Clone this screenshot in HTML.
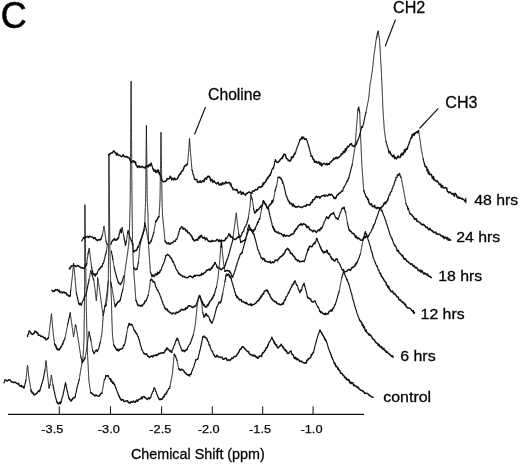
<!DOCTYPE html>
<html><head><meta charset="utf-8"><title>C</title>
<style>
html,body{margin:0;padding:0;background:#fff;}
body{width:520px;height:464px;overflow:hidden;}
svg{display:block;}
text{font-family:"Liberation Sans",sans-serif;fill:#000;}
</style></head><body>
<svg width="520" height="464" viewBox="0 0 520 464">
<rect width="520" height="464" fill="#fff"/>
<g fill="none" stroke="#111" stroke-width="1.5" stroke-linejoin="round" stroke-linecap="round">
<path d="M5.0 380.0L6.0 380.3L7.0 381.0L8.0 380.4L9.0 379.7L10.0 380.0L10.7 380.5L11.3 382.1L12.0 382.0L13.0 382.3L14.0 382.7L15.0 382.0L15.8 382.7L16.5 383.3L17.2 383.6L18.0 384.0L18.7 383.4L19.3 385.6L20.0 385.9L20.7 386.3L21.3 385.4L22.0 387.0L23.0 386.4L24.0 388.0"/>
<path d="M31.0 390.0L31.4 391.8L31.9 391.8L32.3 393.0L32.7 392.4L33.1 393.1L33.6 394.0L34.0 395.0L34.8 394.4L35.5 394.4L36.2 393.7L37.0 393.0L37.6 392.1L38.2 391.1L38.8 390.8L39.4 391.5L40.0 390.0"/>
<path d="M57.0 402.0L57.6 403.0L58.2 403.7L58.8 404.0L59.5 402.2L60.3 403.6L61.0 402.0"/>
<path d="M69.0 398.0L69.5 399.2L70.0 399.4L70.5 400.4L71.0 401.0L71.5 400.7L72.0 399.5L72.5 399.3L73.0 398.0L74.0 397.9L75.0 397.0"/>
<path d="M90.6 392.5L91.2 393.2L91.9 393.1L92.5 394.0L93.1 394.4L93.8 394.8L94.4 395.5L95.0 396.0L96.0 394.9L97.0 395.7L98.0 396.0L99.0 396.2L100.0 395.0L100.7 393.5L101.3 393.6L102.0 393.0"/>
<path d="M106.0 375.9L107.2 375.7L108.3 375.9"/>
<path d="M109.9 379.0L110.5 378.7L111.1 381.4L111.6 380.4L112.2 382.2L112.8 383.3L113.4 382.4L114.0 384.1L114.6 384.6"/>
<path d="M119.0 396.0L119.4 396.5L119.8 397.5L120.2 398.6L120.7 399.0L121.1 400.0L121.5 400.3L122.4 399.5L123.2 399.8L124.1 401.6L125.0 401.5L125.9 400.9L126.7 401.0L127.6 400.8L128.4 402.8L129.3 402.5L130.2 403.1L131.0 401.5L131.9 402.3L132.7 402.0L133.5 401.0L134.4 402.1L135.2 402.4L136.0 401.0L136.7 400.0L137.4 401.3L138.1 400.5L138.8 399.4L139.9 399.0L141.0 398.8L141.6 397.1L142.2 398.6L142.8 397.0L143.4 396.5L144.1 396.5L144.8 397.6L145.5 397.8L146.3 398.4L147.2 399.5L148.0 398.8L148.8 397.7L149.6 398.9L150.4 397.7"/>
<path d="M159.0 398.8L160.0 399.8L161.0 398.8L162.0 399.4L163.0 397.7L163.6 396.5L164.2 396.8L164.8 394.4L165.4 394.0L166.0 394.0"/>
<path d="M174.2 354.2L174.8 355.1L175.5 356.0"/>
<path d="M178.7 369.0L179.5 368.9L180.2 370.4L181.0 370.0L182.0 369.2L183.0 370.2L184.0 371.0L184.6 372.4L185.2 372.9L185.8 373.0L186.3 374.2L186.9 374.4L187.5 375.0L188.5 374.7L189.5 376.0L190.0 374.2L190.5 374.2L191.0 374.0"/>
<path d="M196.0 359.7L196.9 359.5L197.8 358.8"/>
<path d="M202.8 337.0L203.5 336.7L204.2 336.0L204.7 337.2L205.2 337.2L205.8 337.8L206.3 337.8L206.8 338.9L207.3 339.8"/>
<path d="M214.2 355.4L215.1 356.6L215.9 357.1L216.8 355.2L217.7 356.0L218.5 356.9L219.4 357.0L220.3 357.4L221.1 357.3L222.0 357.2L222.9 359.3L223.7 359.2L224.6 358.8L225.5 358.1L226.4 358.2L227.2 360.5L228.1 360.2L229.0 359.7L229.9 360.5L230.7 359.6L231.6 358.1L232.4 358.5L233.3 358.0L234.0 356.4L234.7 356.4L235.3 356.4L236.0 356.3L236.7 355.4L237.1 354.1L237.6 353.8L238.0 353.4L238.4 352.6L238.9 352.0L239.3 351.0L239.8 349.8L240.2 349.3L240.8 349.2L241.5 348.0L242.2 346.8L242.8 346.7L243.5 346.9L244.1 348.0L244.8 348.6L245.4 349.3L246.0 350.0L246.6 350.5L247.2 351.3L247.9 351.7L248.5 351.5L249.1 353.3L249.7 353.6L250.4 354.8L251.1 354.8L251.8 354.8L252.6 355.6L253.3 355.1L254.0 356.2L254.9 355.4L255.7 357.0L256.6 356.6L257.4 358.2L258.3 358.0L259.0 356.8L259.6 356.0L260.3 355.9L261.0 356.2L261.5 356.6L262.0 354.4L262.5 353.0L262.9 352.7L263.4 352.9L263.9 352.1L264.4 351.0L264.8 350.4L265.3 350.5L265.7 349.2L266.1 348.0L266.6 347.7L267.0 347.6L267.5 346.4L267.9 345.0"/>
<path d="M274.0 341.5L274.4 343.3L274.8 342.6L275.2 344.2L275.6 344.9L276.1 344.9L276.5 344.8L276.9 346.5L277.3 347.3L277.7 347.7L278.3 347.9L278.9 347.1L279.4 346.0L280.0 346.0L280.6 345.2L281.2 344.2L281.6 345.1L282.1 345.7L282.5 346.2L282.9 347.6L283.3 347.1L283.8 348.1L284.2 349.3L284.6 350.0L285.2 349.6L285.7 350.9L286.3 350.6L286.9 351.9L287.4 353.3L288.0 353.5L288.7 353.3L289.4 352.3L290.1 351.6L290.8 351.2"/>
<path d="M293.8 357.0L294.4 358.0L295.1 358.7L295.7 357.4L296.4 359.0L297.0 359.9L297.7 358.9L298.3 359.4L299.0 360.3L299.6 361.5L300.4 361.2L301.3 360.9L302.1 362.0L302.9 362.4L303.7 362.8L304.6 363.0L305.4 362.7L306.0 363.2L306.5 362.3L307.1 360.0L307.7 360.0L308.3 359.0L308.9 358.4L309.4 358.5L310.0 358.0L310.4 357.3L310.9 356.9L311.3 354.8L311.8 354.3L312.2 354.4L312.6 353.6L313.1 352.8L313.5 352.3"/>
<path d="M319.7 330.4L320.2 330.2L320.7 331.7L321.2 332.2L321.7 332.7L322.2 334.2L322.7 335.0L323.1 335.4L323.6 336.5L324.0 337.5L324.4 337.6L324.9 339.7L325.3 339.1L325.8 340.8L326.2 340.8"/>
<path d="M334.2 362.7L334.7 363.9L335.1 363.5L335.6 365.9L336.1 366.6L336.5 366.1L337.0 367.0L337.5 367.2L337.9 369.2L338.4 368.4L338.9 370.0L339.3 369.9L339.8 370.5L340.3 372.1L340.7 373.2L341.2 373.0L341.8 373.6L342.3 373.7L342.9 375.3L343.5 375.3L344.1 376.1L344.6 377.6L345.2 377.9L345.8 377.3L346.4 379.4L346.9 378.8L347.5 379.9L348.1 379.5L348.7 380.5L349.2 380.0L349.8 382.8L350.4 382.3L351.1 383.7L351.7 382.4L352.4 382.7L353.0 383.2L353.7 385.6L354.3 384.9L355.0 385.7L355.7 386.0L356.3 386.7L357.0 386.5L357.6 387.7L358.3 387.2L358.9 388.7L359.6 389.2L360.3 389.9L361.0 390.4L361.7 390.4L362.4 390.4L363.1 391.5L363.8 391.5L364.6 393.4L365.3 393.3L366.0 393.1L366.7 393.3L367.4 393.6L368.1 393.9L368.8 395.0L369.6 395.2L370.5 396.1L371.3 396.7L372.2 397.2L373.0 397.3"/>
<path d="M29.5 331.0L30.0 331.8L30.5 332.5L31.1 333.4L31.6 333.6L32.1 334.5L32.8 334.2L33.5 333.4L34.2 333.3L34.9 331.1L35.6 331.6L36.2 331.6L36.7 332.9L37.3 332.8L37.9 333.4L38.4 335.2L39.0 335.4L39.9 335.1L40.8 336.2L41.6 336.5L42.5 336.2L43.1 337.0L43.7 337.7L44.2 337.9L44.8 337.5L45.4 339.1L46.0 339.7L46.8 339.5L47.7 338.2L48.5 338.0"/>
<path d="M54.6 344.0L55.0 344.7L55.5 346.0L55.9 345.6L56.3 347.4L56.7 348.9L57.1 348.1L57.6 349.4L58.0 350.0L58.6 349.3L59.2 349.9L59.8 348.5L60.3 348.4L60.9 346.7L61.5 346.6"/>
<path d="M82.3 362.5L82.8 361.6L83.2 360.6L83.7 360.6L84.1 359.4L84.5 358.7L85.0 358.0"/>
<path d="M95.7 350.7L96.5 350.0L97.3 351.5"/>
<path d="M104.8 306.2L105.5 306.1L106.2 304.8"/>
<path d="M113.8 345.2L114.3 345.8L114.8 346.9L115.2 347.0L115.7 348.5L116.2 349.0L117.0 350.4L117.8 349.0L118.5 350.9L119.3 350.0L120.1 349.1L120.9 349.2L121.7 348.8L122.5 348.3"/>
<path d="M129.2 323.5L130.1 325.0L131.0 324.3L131.9 324.7"/>
<path d="M134.3 330.2L134.9 331.0L135.4 331.7L136.0 333.2L136.6 333.4"/>
<path d="M143.7 353.0L144.4 353.9L145.0 353.7L145.7 354.3L146.4 353.7L147.1 355.0L147.7 356.2L148.4 356.2L149.2 357.4L150.0 356.8L150.9 356.2L151.7 356.1L152.6 357.0L153.5 355.4L154.3 355.8L155.2 355.0L156.1 355.8L156.9 354.5L157.8 355.0L158.7 353.4L159.5 353.7L160.4 353.3L161.3 352.9L162.1 352.7L163.0 353.1L163.8 353.1L164.7 351.6L165.2 350.4L165.7 349.8L166.3 349.8L166.8 348.0L167.3 348.0L167.9 349.0L168.4 349.7L169.0 350.0L169.7 350.4L170.3 351.6L170.9 350.8L171.6 352.5"/>
<path d="M176.0 340.4L176.6 340.0L177.1 338.3L177.7 338.6"/>
<path d="M182.0 350.7L182.9 351.0L183.7 350.2L184.6 351.6L185.2 350.8L185.9 350.0L186.5 350.0L187.2 349.0"/>
<path d="M204.0 317.0L204.4 316.0L204.9 316.1L205.3 314.3L205.8 314.1L206.2 313.5L206.8 315.5L207.4 315.5L208.0 316.0"/>
<path d="M209.7 319.6L210.2 320.4L210.6 321.6L211.1 321.9L211.5 322.7L212.0 323.0"/>
<path d="M219.2 302.3L220.1 303.0L221.0 301.4"/>
<path d="M226.0 275.7L226.8 274.0L227.6 275.4L228.4 274.0L228.8 274.3L229.3 275.5L229.7 277.0L230.1 276.9L230.6 276.6L231.0 278.3"/>
<path d="M236.0 295.5L236.5 295.8L237.0 297.6L237.5 296.8L238.1 298.2L238.6 298.3L239.1 299.4L239.6 299.9L240.3 299.8L241.1 299.5L241.8 301.8L242.6 301.6L243.3 301.4L244.1 302.3L244.8 302.5L245.5 303.6L246.3 302.5L247.0 303.5L247.8 304.3L248.5 304.7L249.3 304.4L250.0 305.0L250.9 303.7L251.7 305.6L252.6 304.7L253.4 304.4L254.3 304.2L255.0 303.4L255.7 303.2L256.5 302.2L257.2 301.1L257.9 300.8L258.6 300.7L259.1 299.5L259.6 298.8L260.1 297.7L260.5 298.2L261.0 296.1L261.5 296.7L262.0 295.5L262.4 294.1L262.9 294.3L263.4 294.3L263.8 292.8L264.2 291.4L264.7 291.2L265.5 290.6L266.4 290.0L266.9 290.9L267.4 290.4L268.0 291.9L268.5 293.2L269.0 293.8L269.4 294.2L269.9 295.4L270.3 296.6L270.8 297.4L271.2 298.2L271.6 298.8L272.1 298.9L272.5 299.9L273.2 300.5L273.9 300.9L274.6 301.4L275.4 302.1L276.1 301.7L276.8 303.4L277.7 303.6L278.6 304.2L279.4 303.9L280.3 305.0L281.0 304.5L281.7 304.4L282.3 303.4L283.0 304.1L283.7 302.5"/>
<path d="M291.5 287.0L291.9 285.9L292.4 284.4L292.8 284.7L293.2 284.1L293.7 283.8L294.1 281.9L294.6 281.7L295.0 281.0"/>
<path d="M307.5 297.0L308.1 298.0L308.8 298.3L309.4 298.3L310.0 299.0L310.6 299.0L311.2 300.6L311.9 301.7L312.5 302.0L313.3 302.0L314.2 301.2L315.0 301.0"/>
<path d="M320.0 311.0L320.8 312.6L321.5 311.9L322.2 312.7L323.0 313.6L323.8 313.8L324.5 314.5L325.2 313.2L326.0 314.5L326.6 313.6L327.3 313.8L327.9 314.0L328.6 312.6L329.2 311.4L329.9 311.3L330.6 310.5L331.2 309.9L331.9 311.1L332.5 309.5"/>
<path d="M359.6 320.0L360.0 320.8L360.5 321.1L360.9 321.2L361.3 322.5L361.8 322.5L362.2 325.2L362.6 325.4L363.1 324.9L363.5 327.4L363.9 327.8L364.3 326.8L364.8 329.7L365.2 329.9L365.6 331.2L366.1 329.9L366.5 331.5L367.0 332.5L367.6 333.0L368.1 333.5L368.7 334.1L369.2 335.3L369.8 334.2L370.3 335.0L370.9 335.5L371.4 336.7L372.0 337.3L372.5 338.6L373.1 339.1L373.6 339.6L374.2 339.7L374.7 340.5L375.3 342.0L375.8 342.0L376.4 343.1L377.0 343.2L377.6 343.5L378.3 345.4L378.9 344.4L379.5 345.9L380.1 346.8L380.7 346.3L381.3 347.7L381.9 346.9L382.5 348.9L383.2 348.9L383.8 348.3L384.4 350.4L385.0 350.5L385.6 350.4L386.3 352.4L386.9 351.6L387.5 352.5L388.2 353.3L388.8 353.4L389.4 354.3L390.0 354.3L390.7 355.7L391.3 355.7L391.9 356.4L392.6 355.7L393.2 357.3"/>
<path d="M52.0 290.4L52.9 291.5L53.7 291.0L54.6 291.2L55.5 289.5L56.3 290.1L57.2 289.5L57.9 290.3L58.6 291.2L59.3 290.2L60.0 292.6L60.7 292.0L61.5 291.9L62.4 293.1L63.2 291.9L64.0 292.0L64.7 293.0L65.4 292.8L66.2 292.8L66.9 294.9L67.6 294.7L68.5 295.6L69.3 296.4L70.2 295.6"/>
<path d="M78.8 303.4L79.7 304.7L80.5 303.3L81.4 305.0"/>
<path d="M116.6 304.0L117.3 303.0L117.9 301.9L118.6 302.0L119.3 300.8L120.0 300.7"/>
<path d="M138.0 305.5L138.9 305.2L139.8 305.4L140.7 306.2L141.4 305.3L142.1 306.0L142.7 305.1L143.4 304.0L144.0 303.8L144.5 302.9L145.1 300.9L145.6 301.0L146.2 300.7"/>
<path d="M150.4 280.7L151.2 279.1L152.0 279.8L152.7 280.9L153.3 282.1L154.0 281.9L154.7 282.5"/>
<path d="M164.7 307.5L165.3 308.8L165.9 309.5L166.5 309.4L167.2 309.0L167.8 311.1L168.4 310.9L169.0 311.8L169.9 312.5L170.7 312.6L171.6 313.8L172.5 313.7L173.3 312.9L174.2 313.5L174.9 313.4L175.7 313.9L176.4 312.1L177.2 312.4L177.9 312.5L178.7 312.2L179.4 311.0L180.3 311.1L181.1 309.5L182.0 309.2L182.9 310.0L183.7 309.8L184.6 309.2L185.3 309.8L186.1 307.6L186.8 308.5L187.6 307.8L188.3 305.7L189.1 305.7L189.8 305.8L190.7 306.5L191.5 306.6L192.4 307.5L193.2 307.0L194.1 307.0L195.0 305.7L195.8 305.8"/>
<path d="M202.0 301.4L202.4 301.5L202.8 304.0L203.2 304.1L203.7 305.4L204.1 304.4L204.5 305.8L205.3 307.0L206.2 306.6L206.7 307.0L207.2 305.3L207.8 304.6L208.3 305.2L208.8 303.5L209.3 302.8L209.8 301.6L210.4 300.7L210.9 300.6L211.4 299.5L211.8 299.0L212.3 298.1L212.7 298.4L213.1 296.3L213.6 296.1L214.0 295.0"/>
<path d="M224.9 271.3L225.8 271.0L226.6 270.4L227.5 270.5L228.3 271.1L229.2 270.8L230.0 272.2"/>
<path d="M240.5 254.0L241.1 253.6L241.6 253.6L242.2 252.3"/>
<path d="M251.0 229.4L251.4 230.7L251.9 231.0L252.3 232.0L252.7 232.3L253.2 233.8L253.6 233.7"/>
<path d="M261.4 258.0L262.1 258.2L262.9 259.6L263.6 258.4L264.4 258.8L265.1 261.3L265.9 261.2L266.6 261.4L267.5 261.9L268.3 261.9L269.2 262.3L270.1 261.3L270.9 263.1L271.8 262.6L272.7 261.9L273.5 262.6L274.4 261.7L275.3 260.1L276.1 260.0L277.0 260.6L277.6 260.8L278.2 259.3L278.7 258.6L279.3 258.5L279.9 257.4L280.5 256.8L281.0 256.6L281.6 256.1L282.2 255.4L282.7 255.7L283.2 253.9L283.7 254.3L284.1 253.5L284.6 252.8L285.1 251.7L285.6 250.2L286.3 249.7L287.0 249.1L287.7 248.4L288.2 249.0L288.7 249.4L289.2 250.6L289.8 250.9L290.3 253.2L290.8 252.8L291.3 253.8L291.8 253.8L292.3 253.7L292.8 255.4L293.2 255.8L293.7 256.0L294.2 256.7L294.7 257.0L295.2 258.8L295.9 259.6L296.7 259.5L297.4 261.0L298.1 260.3L298.8 260.6L299.6 262.0L300.3 261.4L301.2 261.5L302.1 261.5L302.9 261.1L303.8 261.4"/>
<path d="M307.6 250.6L308.0 249.2L308.5 249.9L308.9 247.9L309.3 247.1L309.8 246.0L310.2 246.2L311.1 246.7L311.9 246.8L312.8 245.4L313.3 244.3L313.8 243.5L314.4 243.1L314.9 243.8L315.4 242.0"/>
<path d="M321.4 249.7L321.9 250.6L322.4 250.5L323.0 252.2L323.5 252.3L324.0 253.0L324.6 251.6L325.3 252.2L326.0 251.8L326.6 250.6L327.1 250.2L327.6 253.1L328.2 253.0L328.7 253.9L329.2 254.0"/>
<path d="M331.8 259.2L332.7 258.7L333.5 260.2L334.4 261.0L335.3 260.6L336.1 258.7L337.0 259.2"/>
<path d="M342.5 270.0L343.4 269.6L344.2 271.8L345.1 271.8L346.0 271.5L346.8 271.2L347.7 270.3L348.5 269.4L349.3 269.5L350.2 270.5L351.0 269.5L351.5 268.3L352.1 267.3L352.6 267.8L353.2 267.2L353.7 266.8L354.3 266.2L354.8 266.2L355.4 264.0L355.9 264.6L356.5 262.6L357.0 262.7"/>
<path d="M380.0 273.5L380.4 273.2L380.9 274.3L381.3 276.1L381.7 276.7L382.2 277.0L382.6 278.0L383.0 277.9L383.5 279.1L383.9 279.8L384.3 280.8L384.8 281.1L385.2 281.7L385.7 282.4L386.1 282.8L386.5 285.1L387.0 285.0L387.4 285.6L387.8 287.1L388.3 287.7L388.7 286.3L389.1 288.6L389.6 289.4L390.0 289.5L390.6 291.2L391.2 291.6L391.8 291.8L392.4 291.0L392.9 291.8L393.5 293.2L394.1 294.0L394.7 293.5L395.3 294.5L395.9 295.1L396.5 296.0L397.1 296.8L397.6 296.9L398.2 296.9L398.8 299.2L399.4 300.0L400.0 299.5L400.6 300.0L401.2 301.4L401.8 301.5L402.4 302.2L403.0 302.7L403.6 302.4L404.2 303.9L404.8 304.7L405.4 304.0L406.0 306.3L406.6 306.9L407.2 307.4L407.8 308.0L408.4 308.0L409.0 308.0L409.6 308.3L410.2 308.6L410.8 309.0L411.4 310.2L412.1 310.6L412.7 311.6L413.3 310.6L413.9 313.3L414.5 312.8"/>
<path d="M69.4 268.5L69.9 269.0L70.5 267.1L71.0 267.0L71.5 265.8L72.5 265.8L73.6 265.0L74.3 265.7L75.0 265.8L75.7 266.5L76.6 266.2L77.5 265.4L78.4 265.8L79.1 266.5L79.8 266.8L80.5 267.6L81.2 267.9L82.1 267.5L83.1 268.3L84.0 268.5L84.5 267.7L84.9 267.3L85.3 265.3L85.8 265.6L86.2 265.2L86.7 263.7"/>
<path d="M92.9 273.4L93.4 274.5L94.0 273.8L94.5 274.6L95.0 276.0L95.5 275.7L96.0 273.8L96.5 274.1L97.0 273.4"/>
<path d="M99.1 269.2L99.8 268.3L100.5 268.1L101.2 266.6L101.9 266.5"/>
<path d="M118.4 282.3L119.1 283.3L119.8 283.8L120.5 284.4"/>
<path d="M133.7 268.0L134.3 267.9L135.0 269.5L136.0 269.6L137.0 269.0"/>
<path d="M152.0 276.4L152.9 274.9L153.8 276.5L154.6 275.9L155.5 273.9L156.4 274.7L157.0 274.7L157.7 272.3L158.3 273.7L158.9 272.5L159.5 272.8L160.2 270.6L160.8 270.4"/>
<path d="M166.0 255.7L166.8 255.2L167.7 254.4L168.3 255.0L169.0 255.5L169.7 256.2L170.3 257.4L170.7 257.9L171.2 258.3L171.6 258.4L172.0 259.8L172.5 260.6L172.9 261.7"/>
<path d="M179.0 273.8L179.7 274.1L180.4 274.9L181.2 275.4L181.9 275.3L182.6 276.7L183.3 276.4L184.2 276.4L185.0 277.2L185.9 277.6L186.7 277.5L187.6 277.7L188.4 277.3L189.3 276.3L190.1 276.0L191.0 276.4L191.9 277.1L192.7 277.7L193.6 276.4L194.5 275.3L195.3 276.3L196.2 275.3L197.1 275.3L197.9 275.4L198.8 275.5L199.5 275.7L200.3 274.9L201.0 275.3L201.8 273.3L202.5 274.4L203.3 274.0L204.0 273.0L204.7 272.5L205.4 272.3L206.1 271.0L206.8 270.1L207.5 270.4L208.4 269.7L209.2 269.0L210.1 270.2L211.0 268.6L211.5 267.6L212.0 268.4L212.5 266.7L213.0 266.1L213.5 265.2L214.1 264.9L214.7 262.9L215.3 262.6"/>
<path d="M217.0 266.9L218.0 267.9L219.0 268.0L220.0 268.7L221.0 269.8L222.0 269.0L223.0 268.1L224.0 267.9"/>
<path d="M240.6 242.4L241.5 241.8L242.3 241.5L243.2 240.7L244.1 240.8L245.0 239.8"/>
<path d="M249.0 229.0L249.8 229.7L250.5 230.0L251.2 229.7L252.0 231.0L252.8 230.3L253.5 231.4L254.2 229.3L255.0 229.5"/>
<path d="M264.9 203.5L265.4 204.0L266.0 205.0L266.5 206.1L267.0 207.2L267.5 208.6L268.0 208.0L268.5 209.0"/>
<path d="M272.7 227.0L273.2 226.7L273.7 229.3L274.3 229.0L274.8 231.3L275.3 231.0L276.0 232.1L276.7 231.9L277.5 232.9L278.2 232.0L278.9 233.0L279.6 233.7L280.4 233.6L281.1 233.4L281.9 234.7L282.6 234.9L283.4 236.4L284.1 234.5L284.9 235.5L285.6 236.3L286.5 235.5L287.4 235.6L288.2 236.1L289.1 236.0L290.0 235.5L290.8 235.0L291.6 234.1L292.4 234.4L293.2 233.8L294.0 233.0L294.4 231.1L294.9 231.4L295.3 229.8L295.7 229.3L296.1 229.5L296.6 228.8L297.0 228.0L297.6 227.4L298.1 226.1L298.7 225.9L299.3 224.8L299.9 225.1L300.4 224.7L301.0 223.5L301.8 224.9L302.6 224.9L303.4 223.6L304.2 224.0L305.0 224.6L305.6 224.5L306.2 226.0L306.7 227.5L307.3 227.4L307.9 226.3L308.5 227.1L309.0 227.7L309.6 229.6L310.2 229.8L311.1 230.1L311.9 230.6L312.8 231.8L313.7 230.3L314.5 230.6L315.4 231.5L316.3 232.5L317.1 231.4L318.0 230.4L318.8 229.7L319.7 230.7L320.2 228.9L320.7 228.1L321.3 228.7L321.8 227.9L322.3 227.2"/>
<path d="M326.6 216.8L327.2 218.0L327.8 217.8L328.4 218.5L328.8 217.4L329.3 216.9L329.7 215.6L330.1 215.5L330.6 214.7L331.0 214.2L331.8 213.8L332.7 214.1L333.5 212.5"/>
<path d="M336.0 217.7L336.6 218.5L337.3 218.5L337.9 219.4"/>
<path d="M342.2 208.2L343.1 208.7L344.0 207.3"/>
<path d="M349.0 229.8L349.6 230.0L350.2 231.4L350.8 231.2L351.4 231.8L352.0 233.0L352.6 233.3L353.2 233.6L353.9 233.6L354.5 235.1L355.1 235.6L355.7 237.6L356.4 236.2L357.0 237.6L357.7 238.8L358.4 237.9L359.1 238.6L359.8 239.1L360.5 240.0L361.2 240.2L362.0 240.1L362.7 239.9L363.5 238.0L364.1 237.0L364.8 238.0L365.4 237.2L366.0 236.0L367.0 237.0L368.0 236.7"/>
<path d="M379.7 208.2L380.3 207.7L380.9 209.7L381.4 210.2L382.0 210.8"/>
<path d="M396.8 249.4L397.3 251.1L397.8 251.1L398.4 250.6L398.9 252.4L399.4 253.0L399.9 253.1L400.4 254.0L401.0 254.4L401.5 254.9L402.0 255.9L402.6 255.3L403.2 257.0L403.8 258.6L404.4 259.3L405.0 258.6L405.5 258.9L406.1 259.8L406.7 261.2L407.3 261.4L407.9 261.3L408.5 262.3L409.2 263.1L409.9 263.2L410.6 264.2L411.3 264.0L412.0 263.7L412.7 265.3L413.3 266.3L414.0 265.5L414.7 266.7L415.4 267.9L416.1 267.5L416.8 267.8L417.5 268.8L418.2 270.5L418.9 270.3L419.6 271.0L420.3 270.0L421.0 272.3L421.8 270.5L422.5 271.7L423.2 273.1L423.9 274.0L424.6 272.9L425.3 274.0L426.1 274.0L426.9 275.0L427.6 274.1L428.4 276.2L429.2 276.6L429.9 276.3L430.7 277.4L431.5 277.5"/>
<path d="M83.4 237.6L84.3 238.6L85.1 236.8L86.0 237.0L86.9 237.0L87.7 236.3L88.6 237.5L89.4 236.2L90.3 236.4L91.2 237.0L92.0 237.0L92.9 237.2L93.7 238.7L94.6 237.6L95.3 238.0L96.0 239.7L96.6 239.7L97.3 240.6L98.0 240.0L99.0 239.5L100.0 240.1L101.0 239.0"/>
<path d="M112.5 241.0L113.0 239.9L113.5 239.8L114.0 239.6L114.5 238.5L115.2 240.3L115.8 239.7L116.5 240.0L117.0 239.7L117.5 238.2L118.0 238.6L118.5 237.5"/>
<path d="M133.5 252.0L134.2 251.4L134.8 250.5L135.5 250.5L136.2 250.7L137.0 249.5L137.5 247.9L138.0 246.5L138.5 247.0"/>
<path d="M148.5 243.0L149.5 243.5L150.1 242.3L150.6 241.3L151.2 241.0"/>
<path d="M155.6 222.0L156.2 220.2L156.7 220.7L157.3 219.3L157.9 217.7L158.4 217.2L159.0 216.7"/>
<path d="M165.0 241.0L165.7 242.0L166.3 242.6L167.0 243.7L167.7 243.5L168.6 242.7L169.4 244.4L170.3 244.1L171.1 242.9L172.0 242.7L172.9 242.6L173.8 241.2L174.6 241.3L175.5 241.0"/>
<path d="M180.0 228.8L180.8 227.9L181.5 227.0L182.4 227.0L183.2 229.2L184.1 228.3L185.0 228.8L185.6 230.6L186.1 230.9L186.7 230.2L187.3 231.4L187.8 232.7L188.4 232.3L188.9 232.7L189.4 233.6L189.9 233.7L190.5 234.8L191.0 235.1L191.5 236.1L192.0 236.6L192.4 238.1L192.8 239.2L193.2 238.9L193.7 239.7L194.1 240.9L194.5 241.0L195.3 240.4L196.2 239.5L197.0 240.0L197.6 240.2L198.2 237.9L198.8 238.6L199.3 236.4L199.9 237.8L200.5 235.8L201.4 235.4L202.2 237.3L203.1 238.3L204.0 237.5L204.7 237.2L205.4 239.7L206.1 238.4L206.8 238.2L207.5 240.0L208.4 241.0L209.2 241.5L210.1 241.2L211.0 241.8L211.9 240.3L212.7 241.4L213.6 241.1L214.4 240.9L215.3 241.0L216.2 240.6L217.0 239.3L217.9 240.0L218.7 241.5L219.6 240.0L220.4 241.5L221.3 240.2L222.2 240.2L223.0 241.0L223.7 240.8L224.4 240.8L225.1 240.0L225.8 238.0L226.5 238.4"/>
<path d="M228.8 233.8L229.4 235.4L230.1 234.9L230.7 237.1L231.4 236.6L232.2 237.0L232.9 238.4L233.7 238.8L234.8 239.6L236.0 239.0L236.8 237.9L237.5 237.7L238.2 236.6L239.0 237.5L239.7 237.1L240.3 236.5L241.0 236.0"/>
<path d="M254.8 213.0L255.4 212.2L256.1 211.7L256.7 209.6L257.4 210.8L258.0 209.5L258.6 209.3L259.2 208.4L259.9 207.3L260.5 207.0L261.1 205.8L261.7 205.7L262.3 205.2"/>
<path d="M263.3 201.0L263.8 201.5L264.4 202.9L264.9 203.5"/>
<path d="M266.6 207.0L267.5 208.4L268.3 207.8L268.8 206.1L269.2 205.6L269.6 204.8L270.1 204.5L270.6 204.7L271.0 203.5L271.5 203.3L272.0 200.8L272.5 202.5L273.0 200.2L273.5 200.0"/>
<path d="M278.0 177.5L278.8 177.2L279.6 177.3L280.4 178.2L281.2 178.8"/>
<path d="M290.0 203.8L290.8 203.0L291.7 203.7L292.5 206.1L293.3 204.1L294.2 206.6L295.0 206.2L295.8 207.2L296.7 206.8L297.5 207.0L298.3 206.2L299.2 206.7L300.0 206.9L300.8 207.2L301.7 207.5L302.5 207.0L303.3 206.6L304.2 206.0L305.0 205.9L305.8 206.4L306.7 204.6L307.5 204.7L308.3 205.1L309.2 204.8L310.0 205.0L310.4 204.1L310.9 202.4L311.4 202.7L311.8 202.1L312.2 202.3L312.7 199.7L313.1 200.1L313.6 200.0L314.0 199.4L314.5 199.3L314.9 198.5L315.4 197.0L316.3 196.2L317.1 197.5L318.0 196.7L318.9 196.4L319.7 198.2L320.6 197.0L321.5 196.2L322.3 195.7L323.2 195.8L324.1 195.1L324.9 196.3L325.8 195.2L326.7 195.3L327.5 196.0L328.4 195.1L329.3 194.1L330.1 195.3L331.0 194.3L331.6 194.4L332.2 195.2L332.8 196.1L333.5 196.8L334.1 198.4L334.7 197.6L335.3 198.7L335.8 198.2L336.3 197.2L336.8 195.5L337.2 194.9L337.7 194.8L338.2 194.6L338.7 193.5L339.5 193.3L340.2 192.9L341.0 192.0L341.7 191.1L342.5 191.0"/>
<path d="M366.4 197.0L366.8 197.2L367.2 197.8L367.6 199.4L368.0 198.9L368.4 199.7L368.7 202.5L369.1 202.9L369.5 203.4L369.9 204.4L370.3 204.5L370.7 204.7L371.5 203.8L372.2 206.4L373.0 206.8L373.7 206.6L374.5 205.2L375.2 207.9L376.0 207.3L376.9 208.6L377.7 207.3L378.6 207.9L379.4 208.6L380.3 208.2L380.9 207.5L381.5 207.8L382.1 206.4L382.8 206.2L383.4 205.1L384.0 203.3L384.6 203.8L385.1 202.3L385.6 203.7L386.1 201.8L386.5 201.9L387.0 201.1L387.5 200.7L388.0 198.7"/>
<path d="M397.5 174.8L398.5 175.4L399.5 173.5"/>
<path d="M410.0 213.5L410.6 214.0L411.2 214.5L411.9 214.8L412.5 216.0L413.1 216.3L413.8 217.4L414.4 219.2L415.0 218.5L415.7 219.3L416.3 218.8L417.0 221.3L417.7 221.2L418.3 221.7L419.0 222.1L419.7 222.7L420.3 223.0L421.0 224.1L421.7 224.3L422.3 225.1L423.0 224.1L423.7 225.0L424.3 224.9L425.0 226.0L425.7 227.2L426.4 227.6L427.1 227.0L427.9 228.3L428.6 229.6L429.3 229.8L430.0 228.4L430.7 229.6L431.4 230.7L432.1 230.6L432.9 231.4L433.6 232.5L434.3 232.3L435.0 232.5L435.8 232.1L436.5 234.0L437.2 233.8L438.0 234.4L438.8 234.3L439.5 234.1L440.2 234.7L441.0 235.8L441.8 235.7L442.5 237.0L443.3 236.0L444.1 238.5L445.0 237.0L445.8 237.6L446.6 238.9L447.4 237.5L448.3 240.2L449.1 238.8L449.9 240.2L450.8 240.0"/>
<path d="M108.8 155.0L109.5 153.8L110.2 154.0L111.0 153.0L111.8 153.0L112.6 152.8L113.4 151.0L114.2 151.1L115.0 152.5L115.8 153.0L116.5 155.0L117.2 153.4L118.0 155.1L118.8 155.0L119.7 155.4L120.6 156.0L121.6 156.8L122.5 156.0L123.3 154.7L124.2 156.8L125.0 156.6L125.8 156.7L126.7 156.4L127.5 157.5L128.1 157.3L128.8 157.7L129.4 158.2L130.0 160.0L130.9 162.0L131.9 162.2L132.8 160.8L133.8 161.0L134.2 162.6L134.7 161.6L135.1 161.7L135.6 162.5L136.0 165.0L136.8 165.6L137.6 167.5L138.4 166.5L139.2 165.9L140.0 167.5L140.8 167.3L141.7 166.6L142.5 166.3L143.3 167.6L144.2 167.5L145.0 168.0L145.6 166.6L146.2 166.1L146.9 165.5L147.5 166.2L148.1 167.0L148.8 165.0L149.5 164.4L150.2 165.9L151.0 163.8"/>
<path d="M153.0 168.8L153.5 170.0L154.0 171.2L154.5 170.0L155.0 169.9L155.5 171.7L156.0 172.5L156.5 172.2L157.0 170.5L157.5 171.6L158.0 170.0"/>
<path d="M162.5 181.0L163.3 181.7L164.2 181.8L165.0 181.0L165.8 181.2L166.5 180.5L167.2 178.4L168.0 178.8L168.8 178.8L169.5 178.5L170.2 176.2L171.0 177.5L171.7 179.9L172.4 178.4L173.1 178.3L173.8 180.0L174.7 178.0L175.6 179.6L176.6 179.1L177.5 178.8L177.9 177.4L178.4 176.7L178.8 175.5L179.2 174.8L179.7 174.7L180.1 173.4L180.6 174.0L181.0 172.5L181.4 171.6L181.9 171.2L182.3 170.8L182.8 170.9L183.2 169.5L183.7 168.4L184.1 167.3L184.6 165.9L185.0 166.0L185.6 165.1L186.2 165.6L186.9 164.6L187.5 163.8"/>
<path d="M194.5 178.8L195.1 179.7L195.7 179.6L196.3 179.5L196.9 179.6L197.5 182.3L198.1 182.3L198.8 182.5L199.5 181.3L200.2 180.8L201.0 182.5L201.8 181.9L202.5 181.0L203.2 180.2L203.9 181.8L204.6 179.3L205.3 178.1L206.0 178.8L206.5 179.3L207.0 177.3L207.5 177.2L208.0 176.2L208.5 176.9L209.1 176.4L209.6 176.9L210.2 178.5L210.7 180.9L211.2 180.0L212.0 179.4L212.8 182.4L213.5 181.7L214.2 180.8L215.0 182.5L215.8 183.2L216.7 183.9L217.5 182.8L218.3 182.4L219.2 185.0L220.0 185.0L220.8 183.6L221.7 185.0L222.5 182.6L223.3 184.0L224.2 183.1L225.0 183.8L225.9 181.9L226.9 182.9L227.8 183.0L228.8 182.5L229.3 182.6L229.8 182.7L230.4 184.9L230.9 183.6L231.4 186.6L232.0 187.3L232.5 187.5L233.2 189.8L233.9 189.5L234.6 189.5L235.4 189.9L236.1 190.2L236.8 189.3L237.5 191.2L238.3 193.1L239.1 192.4L239.8 191.9L240.6 191.3L241.4 194.4L242.2 193.7L243.0 192.2L243.8 193.8L244.6 194.3L245.5 195.1L246.4 193.2L247.3 193.5L248.2 192.4L249.1 192.0L250.0 192.5L250.8 193.2L251.7 193.4L252.5 191.4L253.3 190.7L254.2 191.2L255.0 190.0L255.8 189.3L256.7 189.9L257.5 189.6L258.3 187.3L259.2 186.8L260.0 187.5L260.6 186.8L261.2 187.1L261.9 185.9L262.5 186.3L263.1 182.9L263.8 184.3L264.4 182.5L265.0 182.5L265.5 181.9L265.9 181.5L266.4 179.4L266.8 179.5L267.3 177.9L267.7 178.7L268.2 176.8L268.6 176.5L269.1 176.6L269.5 175.0L270.0 175.0"/>
<path d="M275.5 160.0L276.1 161.4L276.8 162.3L277.4 162.3L278.0 162.5L278.5 161.7L279.1 161.0L279.6 160.9L280.2 159.7L280.7 158.8L281.2 158.8L281.8 157.7L282.3 158.6L282.9 156.0L283.4 156.3L284.0 154.0L284.5 154.5L284.9 154.5L285.3 154.5L285.8 156.4L286.2 158.0L286.6 158.4L287.0 158.8L287.6 158.9L288.2 160.6L288.9 160.3L289.5 161.2L290.0 161.0L290.5 160.3L291.0 159.9L291.5 157.0L292.0 156.8L292.5 157.5"/>
<path d="M300.0 140.0L300.6 139.2L301.2 139.0L301.8 137.1L302.4 138.7L303.0 137.0L303.8 137.7L304.6 139.2L305.4 139.3L306.2 138.8"/>
<path d="M311.2 156.2L311.8 155.9L312.3 156.9L312.9 158.9L313.4 159.4L313.9 159.5L314.5 162.3L315.0 161.2L315.7 162.2L316.4 161.5L317.1 162.9L317.9 163.0L318.6 161.8L319.3 162.4L320.0 164.5L320.8 162.9L321.7 166.0L322.5 163.9L323.3 163.7L324.2 163.3L325.0 163.8L325.8 164.6L326.7 163.4L327.5 164.9L328.3 163.7L329.2 164.4L330.0 162.5L330.7 161.9L331.4 161.9L332.1 160.5L332.9 160.3L333.6 158.3L334.3 158.9L335.0 159.0L335.7 157.5L336.4 157.3L337.1 158.7L337.8 157.2L338.5 157.7L339.2 156.8L339.9 156.3L340.6 155.9L341.3 153.7L342.0 153.8L342.6 154.0L343.1 152.1L343.7 151.2L344.2 152.4L344.8 152.2L345.3 148.8L345.9 150.9L346.4 149.3L347.0 147.8L347.6 146.3L348.2 146.9L348.8 146.4L349.3 145.9L349.9 144.5L350.5 144.3L351.3 143.5L352.2 145.5L353.0 146.0L354.0 146.5L355.0 145.2L355.5 145.2L356.0 144.3L356.5 143.9L357.0 142.0"/>
<path d="M388.6 150.4L389.1 152.9L389.6 151.6L390.1 152.0L390.5 153.0L391.0 154.5L391.5 155.0L392.0 155.5L392.9 156.7L393.8 155.0L394.6 158.6L395.5 157.3L396.4 159.0L397.3 157.3L398.2 156.0L399.1 157.5L400.0 157.3L400.5 157.1L401.0 154.2L401.5 155.3L402.0 153.1L402.5 154.5L403.0 154.8L403.5 153.7L404.0 152.0L404.5 149.7L405.1 152.0L405.6 150.8L406.1 148.8L406.6 149.0L407.2 149.3L407.7 147.0"/>
<path d="M411.0 138.3L411.4 137.0L411.8 137.8L412.2 134.5L412.6 136.1L413.0 134.8L413.7 133.6L414.3 135.1L415.0 132.9L415.6 133.2L416.3 132.2L417.1 131.5L417.8 132.8L418.6 130.5"/>
<path d="M425.0 166.0L425.4 166.8L425.8 166.8L426.2 166.6L426.7 167.4L427.1 170.8L427.5 170.8L427.9 169.5L428.3 173.6L428.8 171.8L429.2 172.9L429.6 174.3L430.0 174.8L430.6 174.2L431.2 174.2L431.8 175.7L432.4 178.3L432.9 178.7L433.5 176.6L434.1 180.1L434.7 179.5L435.3 180.6L435.9 180.7L436.5 181.7L437.1 180.8L437.6 181.5L438.2 182.3L438.8 183.2L439.4 184.8L440.0 184.8L440.7 184.0L441.3 187.4L442.0 185.5L442.7 186.1L443.3 187.9L444.0 188.1L444.7 187.8L445.3 187.5L446.0 188.1L446.7 187.9L447.3 191.3L448.0 191.7L448.7 192.8L449.3 192.0L450.0 192.0L450.7 192.8L451.4 193.6L452.1 194.3L452.9 193.4L453.6 194.5L454.3 196.3L455.0 193.3L455.7 194.0L456.4 194.9L457.1 197.1L457.9 197.9L458.6 196.8L459.3 198.3L460.0 198.0L460.8 198.3L461.6 199.0L462.5 198.5L463.3 199.4L464.1 199.8L464.9 201.3L465.8 200.5"/>
</g>
<g fill="none" stroke="#111" stroke-width="1.15" stroke-linejoin="round" stroke-linecap="round">
<path d="M4.0 383.0L4.3 381.9L4.7 381.2L5.0 380.0"/>
<path d="M24.0 388.0L24.2 386.9L24.4 386.2L24.6 385.7L24.8 384.8L25.0 384.2L25.2 383.0L25.4 382.5L25.6 381.8L25.8 380.5L26.0 380.0"/>
<path d="M40.0 390.0L40.2 388.9L40.5 388.6L40.7 387.9L40.9 386.3L41.2 386.2L41.4 385.9L41.6 384.0L41.8 383.7L42.1 383.0L42.3 382.0L42.5 381.7L42.8 380.7L43.0 380.0L43.2 378.6L43.3 378.7L43.5 377.8L43.7 377.0L43.8 376.4L44.0 375.1L44.2 374.2L44.3 372.8L44.5 372.7L44.7 371.4L44.8 370.7L45.0 370.0"/>
<path d="M49.0 388.0L49.3 386.5L49.7 385.6L50.0 385.0"/>
<path d="M53.0 385.0L53.2 385.6L53.3 387.2L53.5 386.9L53.7 387.8L53.8 389.3L54.0 390.6L54.2 391.1L54.3 391.1L54.5 391.9L54.7 393.5L54.8 393.9L55.0 395.0L55.2 395.3L55.4 396.9L55.7 397.8L55.9 398.2L56.1 399.0L56.3 399.8L56.6 401.1L56.8 401.5L57.0 402.0"/>
<path d="M61.0 402.0L61.2 401.6L61.4 400.6L61.7 399.1L61.9 398.6L62.1 398.4L62.3 396.7L62.6 396.5L62.8 396.2L63.0 395.0L63.2 393.7L63.3 393.9L63.5 392.7L63.7 391.6L63.8 391.0L64.0 390.3L64.2 389.2L64.3 388.8L64.5 387.2L64.7 386.5L64.8 386.2L65.0 385.0L65.2 383.8L65.3 383.7L65.5 382.5L65.7 383.9L65.8 384.0L66.0 384.5L66.2 385.8L66.3 386.6L66.5 387.4L66.7 388.9L66.8 388.8L67.0 390.0L67.2 391.3L67.4 391.1L67.6 392.1L67.8 393.4L68.0 394.4L68.2 395.1L68.4 395.7L68.6 396.5L68.8 397.3L69.0 398.0"/>
<path d="M75.0 397.0L75.2 396.8L75.4 395.5L75.5 394.4L75.7 393.6L75.9 392.9L76.1 392.4L76.3 391.1L76.5 390.6L76.6 390.3L76.8 388.2L77.0 388.0L77.2 386.7L77.4 386.5L77.6 385.7L77.8 384.8L78.0 383.7L78.3 383.3L78.5 382.4L78.7 381.2L78.9 381.2L79.1 379.8"/>
<path d="M104.3 379.8L104.6 379.7L105.0 378.8L105.3 378.5L105.7 375.6L106.0 375.9"/>
<path d="M108.3 375.9L108.7 376.4L109.1 377.9L109.5 379.0L109.9 379.0"/>
<path d="M114.6 384.6L114.9 385.8L115.2 386.1L115.5 387.0L115.8 388.1L116.1 388.6L116.4 389.3L116.7 390.7L117.0 390.9L117.3 392.2L117.7 392.5L118.0 394.1L118.3 393.9L118.7 395.5L119.0 396.0"/>
<path d="M150.4 397.7L150.7 397.5L151.0 396.6L151.3 395.2L151.6 394.2L151.9 394.0L152.2 392.9L152.5 392.0L152.9 391.3L153.3 391.4L153.6 389.4L154.0 387.6L154.4 387.9L154.8 388.5L155.1 388.5L155.4 391.0L155.8 391.5L156.2 391.7L156.5 393.0L156.9 393.8L157.2 395.2L157.6 395.5L157.9 397.2L158.3 397.1L158.6 398.7L159.0 398.8"/>
<path d="M166.0 394.0L166.4 392.1L166.8 393.2L167.2 390.9L167.6 391.0L168.0 390.1L168.4 389.5L168.8 388.3L169.2 388.2L169.6 388.4L170.0 386.5"/>
<path d="M175.5 356.0L175.8 357.1L176.1 358.2L176.4 358.6L176.7 359.1L177.0 360.5"/>
<path d="M191.0 374.0L191.3 373.5L191.6 372.2L191.9 371.2L192.2 370.5L192.6 369.3L192.9 369.1L193.2 367.9L193.5 367.5L193.8 366.9L194.0 365.3L194.2 365.3L194.5 364.1L194.8 363.0L195.0 363.1L195.2 361.9L195.5 360.6L195.8 360.1L196.0 359.7"/>
<path d="M197.8 358.8L198.0 357.8L198.2 357.5L198.4 356.7L198.6 355.9L198.8 354.9L199.0 354.5L199.2 353.5L199.4 352.6L199.6 351.0L199.8 351.1L200.0 350.5L200.2 349.1L200.4 348.4L200.6 347.4L200.7 347.4L200.9 345.3L201.1 345.3L201.3 344.9L201.4 343.2L201.6 343.0L201.8 342.5L201.9 341.0L202.1 340.5L202.3 339.8L202.5 338.3L202.6 337.8L202.8 337.0"/>
<path d="M207.3 339.8L207.6 341.2L207.9 341.4L208.3 341.5L208.6 342.3L208.9 344.8L209.2 345.3L209.5 345.7L209.8 344.9L210.2 347.3L210.5 348.0L210.8 348.4L211.2 350.3L211.6 350.3L211.9 350.7L212.3 351.9L212.7 351.2L213.1 353.8L213.4 354.1L213.8 354.1L214.2 355.4"/>
<path d="M267.9 345.0L268.3 345.0L268.6 342.8L269.0 342.7L269.4 342.5L269.8 341.1L270.1 341.3L270.5 339.8L270.9 339.3L271.4 338.6L271.8 337.0L272.2 337.6L272.5 339.6L272.9 340.1L273.3 339.8L273.6 340.8L274.0 341.5"/>
<path d="M290.8 351.2L291.2 350.9L291.6 353.8L291.9 353.7L292.3 354.9L292.7 354.2L293.1 355.4L293.4 355.2L293.8 357.0"/>
<path d="M313.5 352.3L313.7 351.5L313.9 350.4L314.1 350.1L314.3 349.2L314.5 348.2L314.7 347.2L314.9 346.6L315.1 345.2L315.4 344.6L315.6 344.2L315.8 342.8L316.0 342.6L316.2 341.8L316.4 340.4L316.6 340.0L316.8 339.2L317.0 338.5L317.3 337.9L317.5 337.1L317.8 336.1L318.1 334.9L318.4 334.4L318.6 333.6L318.9 333.1L319.2 332.1L319.4 330.9L319.7 330.4"/>
<path d="M326.2 340.8L326.5 341.6L326.7 342.8L327.0 342.6L327.2 343.7L327.5 344.9L327.8 345.8L328.0 347.0L328.3 347.3L328.6 348.5L328.8 349.1L329.1 350.0L329.3 350.6L329.6 351.2L329.9 351.9L330.2 353.1L330.5 352.7L330.8 355.1L331.1 354.3L331.4 356.0L331.7 357.7L332.1 357.2L332.4 358.1L332.7 359.7L333.0 359.7L333.3 359.8L333.6 361.3L333.9 362.3L334.2 362.7"/>
<path d="M27.3 336.2L27.6 336.6L27.9 334.2L28.2 334.0L28.6 334.3L28.9 331.4L29.2 331.4L29.5 331.0"/>
<path d="M61.5 346.6L61.8 345.8L62.1 345.0L62.5 343.1L62.8 344.5L63.1 343.3L63.4 340.8L63.7 341.6L64.0 340.3L64.4 339.9L64.7 339.0L65.0 338.0"/>
<path d="M67.6 325.0L67.8 323.6L67.9 323.3L68.1 323.2L68.3 321.6L68.5 320.6L68.6 319.6L68.8 318.9L69.0 318.7L69.2 318.4L69.3 317.1L69.5 316.2L69.7 315.9L69.9 314.3L70.0 313.4L70.2 312.9"/>
<path d="M75.4 325.0L76.0 326.3"/>
<path d="M80.7 356.2L80.9 357.2L81.1 358.0L81.3 358.2L81.5 358.9L81.7 360.2L81.9 361.0L82.1 361.2L82.3 362.5"/>
<path d="M89.0 331.8L89.2 332.5L89.4 333.8L89.5 334.7L89.7 334.8L89.9 336.1L90.1 336.3L90.3 337.4L90.5 338.4L90.6 339.5L90.8 339.6L91.0 340.5"/>
<path d="M92.5 350.0L92.8 350.8L93.1 351.6L93.4 351.8L93.7 353.1L94.0 353.9L94.4 352.6L94.8 352.6L95.3 350.7L95.7 350.7"/>
<path d="M97.3 351.5L97.7 350.7L98.0 350.1L98.4 348.7L98.8 348.3L99.0 347.9L99.2 346.6L99.4 345.7L99.6 345.3L99.8 343.8L100.0 343.3L100.2 342.8L100.4 342.0"/>
<path d="M122.5 348.3L122.9 348.2L123.3 345.9L123.7 344.8L124.0 345.6L124.4 344.9L124.8 343.6L125.0 343.1L125.1 342.6L125.3 341.3L125.4 340.5L125.6 340.0L125.8 339.0L125.9 338.7L126.1 336.8L126.2 336.3L126.4 335.7"/>
<path d="M127.7 327.9L128.0 326.4L128.3 326.5L128.6 325.1L128.9 324.7L129.2 323.5"/>
<path d="M131.9 324.7L132.2 325.3L132.6 325.9L132.9 326.5L133.3 327.4L133.6 329.1L134.0 329.4L134.3 330.2"/>
<path d="M136.6 333.4L136.9 334.5L137.3 334.9L137.6 336.2L138.0 336.4L138.3 336.5L138.7 339.1L139.0 338.9L139.2 339.9L139.4 340.1L139.6 341.7L139.8 342.2L140.0 342.2L140.2 344.2L140.4 344.5L140.6 345.5L140.8 346.0L141.0 346.7L141.2 346.9L141.4 348.3L141.8 349.8L142.2 349.9L142.6 350.4L142.9 351.7L143.3 352.3L143.7 353.0"/>
<path d="M171.6 352.5L171.9 352.0L172.2 350.3L172.5 349.9L172.8 349.2L173.0 348.5L173.3 348.2L173.6 347.1L173.9 346.1L174.2 345.5L174.5 344.9L174.8 344.4L175.1 343.0L175.4 342.2L175.7 341.7L176.0 340.4"/>
<path d="M177.7 338.6L178.0 340.1L178.3 340.9L178.6 340.6L178.8 342.1L179.1 343.1L179.4 343.8L179.7 344.9L180.0 345.6L180.3 346.0L180.6 346.5L180.8 347.7L181.1 348.8L181.4 348.7L181.7 349.5L182.0 350.7"/>
<path d="M187.2 349.0L187.6 347.7L188.0 346.8L188.4 346.4L188.8 345.9L189.1 344.6L189.5 344.3L189.9 344.1L190.3 343.6L190.7 342.0L191.0 341.8L191.3 340.1L191.6 339.5L191.9 338.3L192.1 338.7L192.4 337.1L192.7 336.5L193.0 336.0L193.3 335.0"/>
<path d="M198.4 298.8L198.8 297.0L199.1 297.4L199.5 296.2L199.8 295.4L200.0 295.6L200.2 297.2L200.5 298.4L200.7 298.2L200.9 300.0L201.2 300.7L201.4 301.6L201.6 302.3"/>
<path d="M202.8 312.7L203.0 313.7L203.3 314.9L203.5 315.2L203.8 316.5L204.0 317.0"/>
<path d="M208.0 316.0L208.4 316.8L208.8 317.0L209.3 318.1L209.7 319.6"/>
<path d="M212.0 323.0L212.3 322.1L212.7 321.8L213.0 320.3L213.3 319.4L213.7 319.1L214.0 317.9L214.2 317.1L214.4 316.2L214.6 315.3L214.8 314.6L215.0 314.1L215.2 313.2L215.4 311.8L215.6 311.7L215.8 310.8L216.0 309.5L216.2 309.4L216.4 308.2L216.6 307.5L217.0 306.5L217.3 306.6L217.7 306.2L218.1 304.0L218.5 304.1L218.8 302.4L219.2 302.3"/>
<path d="M221.0 301.4L221.2 300.4L221.4 300.1L221.6 298.6L221.8 298.3L221.9 297.7L222.1 295.7L222.3 295.2L222.5 294.7L222.7 293.7"/>
<path d="M224.9 281.7L225.1 280.8L225.2 279.7L225.4 279.7L225.5 278.3L225.7 276.8L225.8 276.9L226.0 275.7"/>
<path d="M231.0 278.3L231.2 278.5L231.5 280.3L231.7 281.0L231.9 281.1L232.1 282.6L232.4 283.2L232.6 284.1L232.8 284.0L233.0 285.3L233.3 286.6L233.5 287.0L233.7 288.1L234.0 288.9L234.2 288.7L234.4 290.2L234.6 291.1L234.9 292.3L235.1 292.0L235.3 293.1L235.5 294.0L235.8 295.1L236.0 295.5"/>
<path d="M283.7 302.5L284.1 300.6L284.5 300.8L284.9 299.0L285.3 300.1L285.6 299.7L286.0 296.7L286.4 297.1L286.8 296.6L287.2 295.5L287.6 294.5L288.0 294.3L288.4 292.1L288.8 293.0L289.2 291.9L289.5 290.9L289.9 289.7L290.3 289.8L290.7 288.2L291.1 287.9L291.5 287.0"/>
<path d="M295.0 281.0L295.4 282.2L295.8 282.7L296.2 284.3L296.6 285.3L297.0 285.0L297.3 285.5L297.6 286.0L297.9 287.7L298.2 288.8L298.5 289.4L298.8 290.1L299.1 290.4L299.4 291.1L299.7 292.5L300.0 293.0L300.3 291.5L300.7 290.2L301.0 289.8L301.3 290.8L301.7 290.0L302.0 288.0L302.3 286.7L302.7 285.8L303.0 285.7L303.3 284.1L303.7 284.8L304.0 283.0L304.2 283.8L304.4 284.3L304.6 286.1L304.9 286.2L305.1 287.4L305.3 288.1L305.5 289.0L305.7 289.7L305.9 290.7L306.1 291.1L306.3 291.6L306.5 292.4L306.7 293.3L306.9 294.3L307.1 295.4L307.3 296.2L307.5 297.0"/>
<path d="M315.0 301.0L315.4 301.6L315.8 303.2L316.2 303.3L316.5 304.6L316.9 305.3L317.3 305.8L317.7 307.3L318.1 306.8L318.5 307.7L318.8 308.1L319.2 308.9L319.6 311.3L320.0 311.0"/>
<path d="M332.5 309.5L332.9 308.3L333.2 308.1L333.6 308.5L333.9 307.4L334.3 306.1L334.6 304.7L335.0 304.7L335.3 304.8L335.7 303.0L335.9 302.4L336.2 301.9L336.4 300.6L336.6 300.0L336.9 298.9L337.1 298.4L337.3 297.9L337.6 296.0L337.8 295.8L338.0 295.1L338.3 294.0L338.5 293.3L338.7 292.9L339.0 292.4L339.2 291.0"/>
<path d="M341.8 277.5L342.1 276.9L342.3 275.9L342.6 274.3L342.8 274.7L343.1 273.2L343.3 272.3L343.6 271.5L343.9 271.5L344.2 273.0L344.5 273.0L344.8 274.5L345.1 275.6L345.4 276.0L345.7 276.9L346.0 277.5L346.3 277.7L346.6 280.0L346.9 279.3L347.2 279.4L347.5 281.1L347.8 281.5L348.1 282.0L348.4 283.3L348.7 284.5L349.0 284.2L349.3 285.7L349.6 286.5L349.8 287.9L350.0 288.4L350.2 288.9L350.5 289.9L350.7 290.6L350.9 291.5L351.1 292.6L351.3 293.1L351.6 293.4L351.8 294.8L352.0 295.3L352.2 296.5L352.4 297.6L352.6 297.9L352.9 299.1L353.1 300.4L353.3 300.3L353.5 301.1L353.7 301.8L353.9 302.6L354.1 303.4L354.4 305.0L354.6 305.4L354.8 306.5L355.1 306.7L355.4 307.5L355.6 309.1L355.9 309.4L356.2 310.3L356.5 311.4L356.8 312.6L357.1 313.5L357.3 314.0L357.6 314.5L357.9 315.3L358.2 316.6L358.5 317.4L358.8 317.5L359.0 318.6L359.3 319.3L359.6 320.0"/>
<path d="M70.2 295.6L70.3 295.1L70.4 293.8L70.5 292.6L70.5 292.1L70.6 291.3L70.7 290.5L70.8 290.0"/>
<path d="M76.3 292.7L76.5 293.7L76.7 294.5L76.9 295.1L77.1 296.1L77.3 296.8L77.5 297.7L77.6 298.8L77.8 299.7L78.0 299.8L78.2 300.4L78.4 302.3L78.6 302.6L78.8 303.4"/>
<path d="M81.4 305.0L81.7 304.1L82.0 303.4L82.3 302.0L82.5 301.5L82.8 301.2L83.1 300.5L83.4 299.3L83.8 299.6L84.2 297.1L84.6 296.0L85.0 296.5L85.4 296.0L85.8 294.7L86.2 293.8L86.4 292.4L86.5 292.4L86.7 291.5L86.9 290.6L87.1 289.3L87.2 288.7L87.4 288.1L87.6 286.9L87.8 285.8L87.9 284.6L88.1 284.4L88.3 283.6L88.5 282.6L88.7 282.1L88.8 280.6L89.0 280.0"/>
<path d="M90.8 270.6L91.0 271.3L91.3 272.0L91.5 273.1L91.8 274.3L92.0 274.4L92.3 275.8L92.5 276.0L92.8 277.4L93.0 277.9L93.3 278.6L93.5 279.8L93.8 280.0"/>
<path d="M110.7 282.0L110.9 282.8L111.1 283.6L111.2 284.1L111.4 285.5L111.6 286.7L111.8 287.0"/>
<path d="M114.5 303.4L114.7 304.5L114.8 305.3L115.0 305.9L115.2 306.9L115.5 306.3L115.9 304.5L116.2 305.5L116.6 304.0"/>
<path d="M120.0 300.7L120.2 299.6L120.4 299.5L120.6 298.8L120.8 297.0L121.0 297.1L121.2 296.3L121.4 295.2L121.6 294.2L121.8 293.1L122.0 292.6L122.2 291.8L122.4 291.4L122.6 290.3L122.8 289.7"/>
<path d="M135.9 300.7L136.2 300.4L136.6 302.5L136.9 302.0L137.3 304.5L137.7 303.9L138.0 305.5"/>
<path d="M146.2 300.7L146.5 299.7L146.8 298.8L147.1 298.5L147.4 297.3L147.7 296.5L148.0 295.6L148.3 295.2"/>
<path d="M154.7 282.5L154.9 283.0L155.0 283.6L155.2 285.0L155.6 285.9L156.0 287.4L156.4 287.5L156.8 288.8L157.1 289.9L157.5 290.5L157.9 290.1L158.3 292.0L158.7 292.0L159.0 293.1L159.3 293.0L159.6 294.2L159.9 294.6L160.2 295.9L160.5 296.9L160.8 297.1L161.1 297.6L161.4 299.5L161.7 300.0L162.0 300.6L162.3 301.9L162.6 301.6L162.9 303.3L163.2 304.3L163.5 305.0L163.8 305.1L164.1 306.1L164.4 306.7L164.7 307.5"/>
<path d="M195.8 305.8L196.1 305.1L196.4 303.8L196.7 303.0L197.0 302.5L197.3 301.2L197.6 300.6L197.9 299.8L198.2 299.5L198.4 298.0L198.7 297.1L199.0 296.5L199.3 295.4L199.6 295.9L200.0 297.7L200.3 296.8L200.7 298.8L201.0 298.8L201.3 299.3L201.7 301.8L202.0 301.4"/>
<path d="M214.0 295.0L214.2 294.8L214.5 293.0L214.8 293.0L215.0 292.4L215.2 290.5L215.5 289.8L215.8 289.0L216.0 288.0L216.2 288.0L216.5 287.0"/>
<path d="M220.8 247.0L220.9 245.5L221.0 245.5L221.1 245.0L221.1 243.0L221.2 242.6L221.3 241.2L221.4 241.0L221.5 242.2L221.5 242.4L221.6 243.5L221.7 244.4L221.8 245.5L221.8 246.0L221.9 247.0"/>
<path d="M230.0 272.2L230.4 273.0L230.8 272.6L231.2 274.1L231.5 276.3L231.9 276.0L232.3 275.8L232.7 277.4L233.0 276.7L233.2 275.5L233.5 274.4L233.7 274.0L234.0 273.8L234.3 272.9L234.5 271.9L234.8 270.8L235.0 270.0L235.3 269.6L235.5 269.3L235.8 268.1L236.0 266.9L236.2 265.9L236.5 265.2L236.7 265.5L237.0 263.7L237.2 263.3L237.4 262.6L237.7 261.7L237.9 261.0L238.2 260.1L238.5 258.9L238.8 258.3L239.1 258.5L239.3 256.8L239.6 256.7L239.9 254.9L240.2 254.7L240.5 254.0"/>
<path d="M242.2 252.3L242.4 251.0L242.6 250.8L242.9 249.9L243.1 248.6L243.3 248.2L243.6 246.8L243.8 246.0L244.0 245.4L244.3 244.6L244.5 243.2L244.8 243.0L245.0 241.8L245.3 240.8L245.5 240.4L245.8 239.8"/>
<path d="M247.6 229.4L247.8 228.8L248.1 227.5L248.3 227.2L248.6 225.4L248.8 225.0L249.2 224.8L249.5 227.6L249.9 227.5L250.3 228.6L250.6 228.1L251.0 229.4"/>
<path d="M253.6 233.7L253.9 234.3L254.1 235.1L254.4 235.7L254.6 237.6L254.9 237.8L255.1 238.5L255.4 239.8L255.6 240.2L255.8 241.2L256.0 241.7L256.2 242.9L256.4 243.6L256.6 244.4L256.8 245.0L257.0 246.2L257.2 246.8L257.4 247.8L257.6 248.7L257.8 249.5L258.0 250.2L258.3 249.9L258.7 251.4L259.0 252.0L259.4 253.9L259.7 253.0L260.0 254.4L260.4 255.5L260.7 256.2L261.1 257.9L261.4 258.0"/>
<path d="M303.8 261.4L304.2 260.2L304.6 261.0L305.0 259.2L305.2 258.8L305.5 258.3L305.7 256.7L305.9 256.1L306.2 255.0L306.4 254.9L306.7 253.2L306.9 253.2L307.1 252.6L307.4 251.9L307.6 250.6"/>
<path d="M315.4 242.0L315.8 241.8L316.2 239.8L316.6 238.2L317.0 238.4L317.3 239.0L317.6 240.6L317.9 241.6L318.2 241.8L318.5 242.5L318.8 243.6L319.1 244.0L319.4 244.0L319.8 246.5L320.1 245.9L320.4 248.2L320.8 247.1L321.1 248.0L321.4 249.7"/>
<path d="M329.2 254.0L329.6 253.6L329.9 255.0L330.3 256.0L330.7 257.7L331.1 256.7L331.4 257.8L331.8 259.2"/>
<path d="M337.0 259.2L337.4 259.5L337.7 261.0L338.1 262.5L338.5 262.6L338.9 262.7L339.2 262.8L339.6 264.4L340.0 264.5L340.4 265.5L340.8 266.9L341.3 267.6L341.7 269.5L342.1 269.4L342.5 270.0"/>
<path d="M357.0 262.7L357.3 262.2L357.6 261.2L357.9 260.4L358.2 259.9L358.5 258.7L358.9 258.4L359.2 257.5L359.5 256.4L359.8 255.4L360.1 254.5L360.4 254.0"/>
<path d="M363.0 240.2L363.2 239.2L363.4 238.5L363.6 237.8L363.8 237.7L364.0 236.5L364.2 235.8L364.4 234.3L364.6 233.6L364.8 233.0L365.0 232.4L365.2 231.5L365.5 231.5L365.8 234.1L366.1 233.3L366.4 235.2L366.7 234.1L367.0 236.0L367.3 236.7L367.5 237.6L367.8 238.4L368.0 239.3L368.2 240.0L368.5 240.7L368.7 240.8L369.0 242.0L369.2 242.4L369.4 244.1L369.7 244.7L369.9 245.4L370.1 246.1L370.4 246.7L370.6 247.6L370.8 249.2L371.0 250.0L371.3 250.2L371.5 251.5L371.7 251.2L371.9 252.0L372.2 253.3L372.4 253.9L372.6 254.9L372.8 256.0L373.1 257.3L373.3 257.5L373.6 258.0L373.9 259.0L374.2 259.9L374.5 260.5L374.8 261.6L375.1 262.6L375.3 262.3L375.6 263.6L375.9 264.1L376.2 265.1L376.5 265.2L376.8 266.5L377.2 266.2L377.5 266.9L377.9 269.2L378.2 269.7L378.6 270.4L378.9 270.0L379.3 271.7L379.6 272.2L380.0 273.5"/>
<path d="M88.0 254.0L88.2 253.5L88.3 252.3L88.5 251.4L88.7 250.8L88.9 250.4L89.0 249.9L89.2 248.5"/>
<path d="M91.5 266.5L91.7 267.3L91.8 268.0L92.0 269.2L92.2 270.0L92.4 270.4L92.6 271.4L92.7 272.5L92.9 273.4"/>
<path d="M97.0 273.4L97.4 272.8L97.8 271.6L98.3 270.1L98.7 270.0L99.1 269.2"/>
<path d="M101.9 266.5L102.2 266.5L102.6 263.7L102.9 264.0L103.2 263.3L103.6 263.2L103.9 261.7L104.1 260.7L104.2 260.3L104.4 259.1L104.6 258.9L104.8 258.4L105.0 256.8L105.1 256.4L105.3 255.4L105.5 254.1L105.8 254.0L106.0 253.3L106.3 251.9L106.5 251.0"/>
<path d="M111.3 251.0L111.5 251.4L111.7 253.0L111.9 254.2L112.1 255.0L112.3 255.5L112.4 256.7L112.5 256.5L112.7 257.7L112.8 259.4L112.9 259.6"/>
<path d="M114.3 267.9L114.5 268.2L114.7 270.0L114.9 271.0L115.1 271.5L115.3 272.4L115.5 272.6L115.7 273.1L115.9 274.3L116.1 275.1L116.3 276.0L116.6 276.8L116.8 277.9L117.1 278.3L117.3 279.2L117.6 280.1L117.9 280.7L118.1 282.2L118.4 282.3"/>
<path d="M120.5 284.4L120.9 283.4L121.3 282.3L121.7 282.9L122.1 281.2L122.5 280.3L122.8 279.1L123.0 278.5L123.2 277.8L123.5 276.9L123.8 276.7L124.0 275.5"/>
<path d="M137.0 269.0L137.2 268.2L137.4 266.8L137.6 266.4L137.8 265.5L137.9 264.8L138.1 263.6L138.3 263.0L138.5 262.0"/>
<path d="M140.5 243.0L140.7 241.5L140.9 241.0L141.1 240.9L141.3 240.2L141.5 239.0L141.7 238.0L141.9 237.8L142.1 235.9L142.3 235.5L142.5 235.0L142.8 234.4L143.0 233.6L143.2 232.1L143.5 231.0L143.8 231.4L144.0 230.0"/>
<path d="M150.4 272.0L150.7 272.9L151.0 273.4L151.4 274.7L151.7 275.9L152.0 276.4"/>
<path d="M160.8 270.4L161.1 269.6L161.4 269.2L161.7 267.8L162.0 266.9L162.3 266.3L162.7 265.6L163.0 264.4L163.3 264.3L163.6 263.5L163.9 262.5L164.2 261.7L164.5 261.5L164.7 259.9L165.0 259.7L165.2 258.0L165.5 257.7L165.7 255.9L166.0 255.7"/>
<path d="M172.9 261.7L173.3 262.1L173.6 262.4L174.0 263.8L174.4 265.3L174.8 265.2L175.1 265.8L175.5 266.9L175.9 268.7L176.3 269.2L176.7 269.9L177.1 270.8L177.4 270.5L177.8 271.4L178.2 273.1L178.6 272.6L179.0 273.8"/>
<path d="M215.3 262.6L215.6 263.8L216.0 264.5L216.3 264.6L216.7 266.3L217.0 266.9"/>
<path d="M224.0 267.9L224.3 267.5L224.6 266.9L225.0 264.9L225.3 265.6L225.6 262.9L225.9 262.2L226.2 262.8L226.5 260.8L226.9 260.7L227.2 258.8L227.5 259.2L227.7 258.4L228.0 257.2L228.2 257.0L228.4 255.4L228.6 255.5L228.9 254.4L229.1 253.8L229.3 252.9L229.5 252.2L229.8 250.8L230.0 250.6L230.2 249.1L230.4 249.0L230.6 247.8L230.8 247.2L231.0 246.8L231.2 245.1L231.5 244.7L231.7 244.0L231.9 243.0L232.1 242.7L232.3 241.7L232.5 240.7L232.7 240.2"/>
<path d="M238.9 234.6L239.2 235.1L239.5 236.7L239.8 237.2L239.9 237.8L240.1 239.2L240.2 240.0L240.3 240.0L240.5 241.1L240.6 242.4"/>
<path d="M245.0 239.8L245.3 239.4L245.6 238.7L245.9 237.4L246.2 236.7L246.5 236.0L246.8 235.5L247.1 234.3L247.3 234.1L247.6 232.2L247.9 232.4L248.2 231.3L248.4 229.9L248.7 230.2L249.0 229.0"/>
<path d="M255.0 229.5L255.3 227.6L255.6 227.4L255.9 226.4L256.2 226.4L256.5 225.5L256.8 224.3L257.1 223.6L257.4 224.3L257.7 221.7L258.0 222.0L258.4 222.4L258.8 220.0L259.2 218.8L259.6 219.4L260.0 218.0"/>
<path d="M261.5 209.0L261.7 208.4L261.9 206.9L262.1 206.8L262.3 204.9L262.5 204.4L262.7 204.4L262.9 202.9L263.1 201.7L263.3 201.6L263.5 200.5L263.9 201.9L264.2 202.0L264.5 201.6L264.9 203.5"/>
<path d="M268.5 209.0L268.7 209.7L268.9 210.7L269.1 212.1L269.2 212.1L269.4 213.9L269.6 213.6L269.8 215.4L270.0 216.0L270.2 216.5L270.4 217.8L270.6 218.6L270.8 218.7L271.0 219.9L271.2 220.8L271.4 221.7L271.5 221.9L271.7 222.7L271.9 223.2L272.1 225.3L272.3 225.4L272.5 226.1L272.7 227.0"/>
<path d="M322.3 227.2L322.6 226.8L322.9 225.6L323.2 224.6L323.5 223.8L323.8 224.0L324.1 221.9L324.4 221.9L324.7 221.1L325.0 220.3L325.4 219.9L325.8 218.3L326.2 218.0L326.6 216.8"/>
<path d="M333.5 212.5L333.9 214.2L334.2 213.7L334.6 215.2L334.9 215.7L335.3 216.8L335.6 217.0L336.0 217.7"/>
<path d="M337.9 219.4L338.2 218.3L338.5 218.2L338.8 217.6L339.1 216.6L339.3 215.7L339.6 214.9L339.9 213.9L340.2 212.6L340.5 212.5L340.8 211.9L341.2 210.9L341.5 209.7L341.9 208.7L342.2 208.2"/>
<path d="M344.0 207.3L344.3 207.5L344.6 209.7L344.9 210.2L345.1 211.4L345.4 211.3L345.7 212.5"/>
<path d="M347.4 222.9L347.6 223.8L347.8 224.4L348.0 225.6L348.2 226.3L348.4 226.9L348.6 228.5L348.8 228.6L349.0 229.8"/>
<path d="M368.0 236.7L368.4 235.4L368.8 235.8L369.2 234.3L369.6 233.9L370.0 232.7L370.4 232.6L370.8 232.2L371.2 231.4L371.6 229.8L372.0 228.9L372.3 229.1L372.7 228.6L373.1 226.1L373.5 227.2L373.8 224.4L374.2 224.6L374.5 224.1L374.8 223.3L375.1 222.9L375.4 221.6L375.6 220.6L375.9 219.7L376.2 218.7L376.5 218.8L376.8 217.7L377.1 216.7L377.4 215.7L377.6 215.3L377.9 213.9L378.2 213.2L378.5 212.5L378.7 211.5L379.0 211.4L379.2 210.5L379.5 209.0L379.7 208.2"/>
<path d="M382.0 210.8L382.3 211.7L382.6 212.6L382.9 213.0L383.2 214.2L383.4 215.0L383.7 215.5L384.0 216.0L384.3 216.7L384.6 217.7L384.9 218.8L385.1 218.8L385.4 220.0L385.6 220.6L385.9 221.1L386.2 222.7L386.4 223.2L386.7 224.1L387.0 225.2L387.2 225.0L387.5 226.4L387.7 227.3L388.0 228.0L388.3 229.2L388.5 229.2L388.8 230.7L389.1 231.4L389.4 232.6L389.6 233.4L389.9 234.0L390.2 235.2L390.5 235.4L390.7 236.0L391.0 237.0L391.3 237.5L391.7 237.8L392.0 239.3L392.3 238.9L392.7 240.8L393.0 241.6L393.4 242.7L393.8 243.9L394.1 243.7L394.5 245.7L394.9 245.0L395.3 246.2L395.7 245.9L396.0 247.3L396.4 248.0L396.8 249.4"/>
<path d="M81.6 241.0L82.0 240.8L82.5 239.5L83.0 238.9L83.4 237.6"/>
<path d="M101.0 239.0L101.3 238.5L101.6 237.1L101.9 236.7L102.2 235.7L102.5 235.0"/>
<path d="M106.0 241.0L106.3 241.9L106.6 243.3L106.9 243.3L107.2 244.5"/>
<path d="M111.0 244.5L111.4 242.3L111.8 241.4L112.1 241.5L112.5 241.0"/>
<path d="M118.5 237.5L118.7 237.2L118.9 236.3L119.1 234.1L119.3 234.3L119.5 233.0L119.7 232.9L119.9 231.8L120.1 230.0L120.3 229.7L120.5 229.0L120.6 230.1L120.8 230.8L120.9 231.0L121.1 231.8L121.2 233.0L121.4 232.5L121.5 230.6L121.7 230.9L121.9 229.3L122.0 228.5L122.2 227.5"/>
<path d="M123.5 235.0L123.7 235.3L123.8 236.4L124.0 237.8L124.2 237.7L124.3 239.9L124.5 240.0L124.7 240.3L124.8 241.3L125.0 242.8L125.2 243.9L125.3 244.9L125.5 245.5L125.7 244.4L125.9 243.6L126.1 242.7L126.3 241.7L126.5 241.0"/>
<path d="M127.5 233.0L128.0 230.7L128.5 231.0L128.6 232.2L128.8 232.7L128.9 233.5L129.1 233.9L129.2 235.0L129.5 235.9L129.8 236.7L130.1 237.5L130.4 238.8L130.7 238.4L131.0 240.0L131.3 241.0L131.7 240.8L132.0 242.2L132.3 244.5L132.7 243.3L133.0 245.0"/>
<path d="M138.5 247.0L138.7 246.4L138.9 245.2L139.1 244.5L139.3 244.3L139.5 243.0L139.8 241.8L140.1 241.2L140.4 240.7L140.7 240.0L141.0 239.0L141.3 238.0L141.6 237.8L141.9 237.3L142.2 235.6L142.5 235.0L142.8 234.9L143.0 232.6L143.2 233.1L143.5 231.5L143.8 230.9L144.0 230.0"/>
<path d="M144.8 223.0L145.0 223.7L145.2 224.5L145.4 225.1L145.6 226.3L145.8 227.9L146.0 228.7L146.2 229.0L146.4 230.0"/>
<path d="M151.2 241.0L151.4 239.7L151.7 240.1L151.9 238.9L152.1 237.9L152.4 236.8L152.6 235.8L152.9 236.0L153.1 235.0L153.3 233.5L153.6 233.5L153.8 232.3"/>
<path d="M175.5 241.0L175.9 239.2L176.2 239.6L176.6 238.9L176.9 239.1L177.3 238.0L177.6 237.2L178.0 235.8L178.2 234.9L178.4 234.1L178.7 233.3L178.9 232.8L179.1 231.2L179.3 231.5L179.6 229.7L179.8 229.4L180.0 228.8"/>
<path d="M226.5 238.4L226.9 237.8L227.2 237.0L227.6 237.2L228.0 236.2L228.4 234.9L228.8 233.8"/>
<path d="M241.0 236.0L241.3 235.0L241.7 234.9L242.0 232.5L242.3 233.0L242.7 232.4L243.0 231.4L243.3 231.5L243.7 231.4L244.0 229.4L244.4 228.3L244.8 227.2L245.2 226.7L245.5 226.5L245.9 226.1L246.3 224.3L246.7 224.2L246.9 223.8L247.1 222.0L247.3 222.0L247.6 220.9L247.8 220.1L248.0 219.7L248.2 218.0L248.4 217.3"/>
<path d="M250.7 195.0L251.0 195.8L251.3 196.9L251.6 197.9L251.8 197.8L252.1 199.3L252.4 200.0"/>
<path d="M253.6 208.7L253.8 209.2L254.1 210.7L254.3 211.9L254.6 212.2L254.8 213.0"/>
<path d="M262.3 205.2L262.5 204.9L262.7 203.5L262.9 203.3L263.1 201.1L263.3 201.0"/>
<path d="M264.9 203.5L265.3 204.4L265.8 203.9L266.2 205.6L266.6 207.0"/>
<path d="M275.0 191.0L275.3 189.9L275.5 190.1L275.8 188.5L276.1 187.1L276.3 186.6L276.6 186.0"/>
<path d="M281.2 178.8L281.6 180.2L281.9 180.6L282.2 180.0L282.5 183.2L282.8 181.9L283.1 183.5L283.4 184.2L283.8 185.0L283.9 186.1L284.1 186.5L284.3 187.6L284.5 188.9L284.6 189.1L284.8 189.4L285.0 190.8L285.2 191.1L285.4 192.1L285.5 193.1L285.7 194.0L285.9 194.5L286.1 195.8L286.2 196.2L286.6 196.8L287.0 196.7L287.4 199.2L287.8 199.0L288.1 201.0L288.5 200.2L288.9 202.0L289.2 202.5L289.6 201.7L290.0 203.8"/>
<path d="M342.5 191.0L342.9 190.6L343.2 188.7L343.6 187.7L344.0 187.8L344.3 186.2L344.7 186.2L345.1 185.3L345.4 184.7L345.8 184.3L346.2 183.0L346.5 182.6L346.9 180.9L347.3 181.6L347.6 180.0L348.0 180.3L348.4 177.9L348.8 178.5L348.9 177.4L349.1 177.0L349.3 175.4L349.5 175.2L349.7 174.6L349.9 173.8L350.1 172.3L350.3 172.2L350.5 171.4L350.7 170.1L350.9 170.1L351.1 168.9L351.3 168.2L351.5 167.2L351.7 166.8L351.9 165.8L352.1 165.5L352.3 164.2"/>
<path d="M357.8 110.6L358.0 109.8L358.2 108.4L358.5 107.7L358.7 106.8L358.9 108.1L359.0 108.5L359.2 109.7L359.4 110.7L359.5 111.3L359.7 112.3"/>
<path d="M363.8 191.0L364.1 190.4L364.4 192.6L364.7 193.4L365.1 194.1L365.4 194.1L365.7 196.5L366.1 196.1L366.4 197.0"/>
<path d="M388.0 198.7L388.3 198.4L388.6 196.7L389.0 196.4L389.3 194.3L389.6 194.7L390.0 194.8L390.3 192.1L390.6 192.6L391.0 191.9L391.4 191.6L391.7 191.2L392.1 188.6L392.5 188.5L392.8 187.4L393.1 186.1L393.3 185.6L393.6 185.4L393.9 185.1L394.2 183.0L394.4 183.3L394.7 182.0L395.0 181.0L395.3 179.8L395.6 180.7L395.9 177.3L396.2 177.8L396.6 177.3L396.9 177.6L397.2 176.8L397.5 174.8"/>
<path d="M399.5 173.5L399.9 174.5L400.2 176.0L400.6 177.2L401.0 177.0"/>
<path d="M406.0 203.5L406.3 204.7L406.6 205.3L406.9 205.7L407.2 206.3L407.5 206.4L407.8 209.4L408.2 208.5L408.5 208.3L408.8 210.6L409.1 211.2L409.4 212.1L409.7 214.0L410.0 213.5"/>
<path d="M151.0 163.8L151.3 162.9L151.7 165.7L152.0 165.0L152.3 166.9L152.7 168.0L153.0 168.8"/>
<path d="M158.0 170.0L158.3 172.6L158.7 170.2L159.0 172.9L159.3 174.4L159.7 172.4L160.0 175.0L160.3 176.0L160.6 176.3L160.9 175.8L161.2 179.4L161.6 179.0L161.9 179.0L162.2 180.7L162.5 181.0"/>
<path d="M192.0 170.0L192.2 170.6L192.5 170.8L192.7 171.5L192.9 173.4L193.1 174.6L193.4 175.0L193.6 174.8L193.8 176.2L194.0 177.3L194.3 177.4L194.5 178.8"/>
<path d="M270.0 175.0L270.3 175.4L270.7 172.7L271.0 173.5L271.4 172.1L271.7 169.9L272.0 170.0L272.4 168.6L272.7 168.3L273.1 167.6L273.4 168.8L273.8 166.2L274.0 165.2L274.2 165.6L274.4 164.2L274.6 162.4L274.8 161.4L275.1 162.0L275.3 159.8L275.5 160.0"/>
<path d="M292.5 157.5L292.9 157.6L293.2 155.9L293.6 157.0L294.0 154.3L294.4 153.2L294.8 154.6L295.1 152.8L295.5 153.2L295.9 151.3L296.2 150.0L296.5 149.1L296.8 148.9L297.1 147.2L297.4 146.7L297.7 145.8L298.0 145.3L298.3 145.1L298.6 143.6L298.8 143.3L299.1 142.0L299.4 142.0L299.7 139.8L300.0 140.0"/>
<path d="M306.2 138.8L306.5 140.0L306.8 140.3L307.1 140.6L307.4 142.0L307.6 142.7L307.9 143.9L308.2 144.3L308.5 146.4L308.8 146.2L309.0 146.2L309.2 148.6L309.4 148.5L309.6 149.4L309.8 150.9L310.0 151.3L310.2 151.4L310.4 153.2L310.6 153.6L310.8 153.6L311.0 155.5L311.2 156.2"/>
<path d="M357.0 142.0L357.3 140.2L357.6 140.4L357.9 140.0L358.3 139.9L358.6 138.2L358.9 137.8L359.2 136.5L359.4 135.7L359.6 135.7L359.9 133.0L360.1 133.0L360.3 133.1L360.6 131.5L360.8 129.5L361.0 129.6L361.3 129.0L361.6 126.6L361.9 126.6L362.2 126.8L362.6 127.5L362.9 125.5L363.2 125.0L363.5 123.5L363.7 123.3L363.9 122.0L364.0 120.6L364.2 120.2L364.4 119.7L364.6 118.5L364.8 117.5L364.9 116.9L365.1 115.4L365.3 114.9L365.5 114.6L365.6 113.7L365.8 113.1L366.0 112.3"/>
<path d="M376.5 37.3L376.8 37.2L377.0 35.7L377.2 34.7L377.5 33.2L377.8 32.4L378.0 32.3L378.2 31.2"/>
<path d="M386.0 141.7L386.2 142.0L386.5 143.5L386.7 143.5L386.9 144.9L387.2 145.6L387.4 147.0L387.7 147.0L387.9 147.8L388.1 149.0L388.4 149.6L388.6 150.4"/>
<path d="M407.7 147.0L408.0 146.0L408.3 145.4L408.6 144.3L408.9 144.5L409.2 142.1L409.5 143.1L409.8 140.9L410.1 141.2L410.4 139.0L410.7 138.6L411.0 138.3"/>
<path d="M423.2 159.0L423.4 159.6L423.6 160.5L423.8 162.3L424.0 162.2L424.2 163.3L424.4 163.2L424.6 164.6L424.8 164.3L425.0 166.0"/>
</g>
<g fill="none" stroke="#111" stroke-width="0.95" stroke-linejoin="round" stroke-linecap="round">
<path d="M26.0 380.0L26.1 379.2L26.2 378.3L26.2 377.5L26.3 376.7L26.4 375.8L26.5 375.0L26.6 374.2L26.7 373.3L26.8 372.5L26.8 371.7L26.9 370.8L27.0 370.0L27.1 369.2L27.2 368.3L27.2 367.5L27.3 366.7L27.4 365.8L27.5 365.0L27.6 365.8L27.7 366.6L27.8 367.4L27.9 368.2L28.0 369.1L28.1 369.9L28.2 370.7L28.2 371.5L28.3 372.3L28.4 373.1L28.5 373.9L28.6 374.8L28.7 375.6L28.8 376.4L28.9 377.2L29.0 378.0L29.1 378.8L29.3 379.6L29.4 380.4L29.5 381.2L29.7 382.0L29.8 382.8L29.9 383.6L30.1 384.4L30.2 385.2L30.3 386.0L30.5 386.8L30.6 387.6L30.7 388.4L30.9 389.2L31.0 390.0"/>
<path d="M45.0 370.0L45.1 369.1L45.2 368.3L45.3 367.4L45.4 366.5L45.5 365.7L45.5 364.8L45.6 364.0L45.7 363.1L45.8 362.2L45.9 361.4L46.0 360.5L46.1 361.3L46.2 362.1L46.2 362.9L46.3 363.7L46.4 364.5L46.5 365.3L46.6 366.1L46.7 366.9L46.8 367.8L46.8 368.6L46.9 369.4L47.0 370.2L47.1 371.0L47.2 371.8L47.2 372.6L47.3 373.4L47.4 374.2L47.5 375.0L47.6 375.8L47.7 376.6L47.8 377.4L47.9 378.2L48.0 379.1L48.1 379.9L48.2 380.7L48.2 381.5L48.3 382.3L48.4 383.1L48.5 383.9L48.6 384.8L48.7 385.6L48.8 386.4L48.9 387.2L49.0 388.0"/>
<path d="M50.0 385.0L50.1 384.2L50.2 383.3L50.3 382.5L50.4 381.7L50.5 380.8L50.6 380.0L50.8 379.2L50.9 378.3L51.0 377.5L51.1 376.7L51.2 375.8L51.3 375.0L51.4 375.8L51.6 376.7L51.7 377.5L51.9 378.3L52.0 379.2L52.1 380.0L52.3 380.8L52.4 381.7L52.6 382.5L52.7 383.3L52.9 384.2L53.0 385.0"/>
<path d="M79.1 379.8L79.2 379.0L79.4 378.1L79.5 377.3L79.7 376.5L79.8 375.7L79.9 374.8L80.1 374.0L80.2 373.2L80.4 372.3L80.5 371.5L80.7 370.7L80.8 369.8L80.9 369.0L81.1 368.2L81.2 367.4L81.4 366.5L81.5 365.7L81.7 364.9L81.8 364.1L82.0 363.3L82.1 362.5L82.2 361.8L82.4 361.0L82.5 360.2L82.7 359.4L82.8 358.6L83.0 357.8L83.0 357.0L83.1 356.2L83.1 355.4L83.2 354.6L83.2 353.8L83.3 352.9L83.3 352.1L83.4 351.3L83.4 350.5L83.5 349.7L83.5 348.9L83.5 348.1L83.6 347.3L83.6 346.5L83.7 345.7L83.7 344.9L83.8 344.0L83.8 343.2L83.9 342.4L83.9 341.6L84.0 340.8L84.0 340.0L84.0 339.2L84.0 338.4L84.0 337.6L84.0 336.8L84.0 336.0L84.1 335.2L84.1 334.4L84.1 333.6L84.1 332.8L84.1 332.0L84.1 331.2L84.1 330.4L84.1 329.6L84.1 328.8L84.2 328.0L84.2 327.2L84.2 326.4L84.2 325.6L84.2 324.8L84.2 324.0L84.2 323.2L84.2 322.4L84.2 321.6L84.2 320.8L84.2 320.0L84.3 319.2L84.3 318.4L84.3 317.6L84.3 316.8L84.3 316.0L84.3 315.2L84.3 314.4L84.3 313.6L84.3 312.8L84.3 312.0L84.4 311.2L84.4 310.4L84.4 309.6L84.4 308.8L84.4 308.0L84.4 307.2L84.4 306.4L84.4 305.6L84.4 304.8L84.5 304.0L84.5 303.2L84.5 302.4L84.5 301.6L84.5 300.8L84.5 300.0L84.5 299.2L84.5 298.4L84.5 297.6L84.5 296.8L84.5 296.0L84.5 295.2L84.5 294.4L84.5 293.6L84.5 292.8L84.5 292.0L84.5 291.2L84.5 290.4L84.5 289.6L84.5 288.8L84.6 288.0L84.6 287.2L84.6 286.4L84.6 285.6L84.6 284.8L84.6 284.0L84.6 283.2L84.6 282.4L84.6 281.6L84.6 280.8L84.6 280.0L84.6 279.2L84.6 278.4L84.6 277.6L84.6 276.8L84.6 276.0L84.6 275.2L84.6 274.4L84.6 273.6L84.6 272.8L84.6 272.0L84.6 271.2L84.6 270.4L84.6 269.6L84.6 268.8L84.6 268.0L84.6 267.2L84.6 266.4L84.6 265.6L84.6 264.8L84.7 264.0L84.7 263.2L84.7 262.4L84.7 261.6L84.7 260.8L84.7 260.0L84.7 259.2L84.7 258.4L84.7 257.6L84.7 256.8L84.7 256.0L84.7 255.2L84.7 254.4L84.7 253.6L84.7 252.8L84.7 251.9L84.7 251.1L84.7 250.3L84.7 249.5L84.7 248.7L84.7 247.9L84.7 247.1L84.7 246.3L84.7 245.5L84.7 244.7L84.7 243.9L84.7 243.1L84.7 242.3L84.7 241.5L84.7 240.7L84.8 239.9L84.8 239.1L84.8 238.3L84.8 237.5L84.8 236.7L84.8 235.9L84.8 235.1L84.8 234.3L84.8 233.5L84.8 232.7L84.8 231.9L84.8 231.1L84.8 230.3L84.8 229.5L84.8 228.7L84.8 227.9L84.8 227.1L84.8 226.3L84.8 225.5L84.8 224.7L84.8 223.9L84.8 223.1L84.8 222.3L84.8 221.5L84.8 220.7L84.8 219.9L84.8 219.1L84.8 218.3L84.8 217.5L84.8 216.7L84.9 215.9L84.9 215.1L84.9 214.3L84.9 213.5L84.9 212.7L84.9 211.9L84.9 211.1L84.9 210.3L84.9 209.5L84.9 208.7L84.9 207.9L84.9 207.1L84.9 206.3L84.9 205.5L84.9 204.7L84.9 205.5L84.9 206.3L84.9 207.1L84.9 207.9L85.0 208.7L85.0 209.6L85.0 210.4L85.0 211.2L85.0 212.0L85.0 212.8L85.0 213.6L85.0 214.4L85.0 215.2L85.1 216.0L85.1 216.8L85.1 217.6L85.1 218.5L85.1 219.3L85.1 220.1L85.1 220.9L85.1 221.7L85.1 222.5L85.1 223.3L85.2 224.1L85.2 224.9L85.2 225.7L85.2 226.5L85.2 227.3L85.2 228.2L85.2 229.0L85.2 229.8L85.2 230.6L85.3 231.4L85.3 232.2L85.3 233.0L85.3 233.8L85.3 234.6L85.3 235.4L85.3 236.2L85.3 237.1L85.3 237.9L85.3 238.7L85.4 239.5L85.4 240.3L85.4 241.1L85.4 241.9L85.4 242.7L85.4 243.5L85.4 244.3L85.4 245.1L85.4 246.0L85.5 246.8L85.5 247.6L85.5 248.4L85.5 249.2L85.5 250.0L85.5 250.8L85.5 251.6L85.5 252.4L85.5 253.2L85.6 254.0L85.6 254.8L85.6 255.6L85.6 256.5L85.6 257.3L85.6 258.1L85.6 258.9L85.6 259.7L85.6 260.5L85.7 261.3L85.7 262.1L85.7 262.9L85.7 263.7L85.7 264.5L85.7 265.3L85.7 266.1L85.7 266.9L85.7 267.7L85.8 268.5L85.8 269.4L85.8 270.2L85.8 271.0L85.8 271.8L85.8 272.6L85.8 273.4L85.8 274.2L85.8 275.0L85.9 275.8L85.9 276.6L85.9 277.4L85.9 278.2L85.9 279.0L85.9 279.8L85.9 280.6L85.9 281.5L86.0 282.3L86.0 283.1L86.0 283.9L86.0 284.7L86.0 285.5L86.0 286.3L86.0 287.1L86.0 287.9L86.0 288.7L86.1 289.5L86.1 290.3L86.1 291.1L86.1 291.9L86.1 292.7L86.1 293.5L86.1 294.4L86.1 295.2L86.1 296.0L86.2 296.8L86.2 297.6L86.2 298.4L86.2 299.2L86.2 300.0L86.2 300.8L86.2 301.6L86.2 302.4L86.3 303.2L86.3 304.0L86.3 304.8L86.3 305.6L86.3 306.5L86.3 307.3L86.4 308.1L86.4 308.9L86.4 309.7L86.4 310.5L86.4 311.3L86.4 312.1L86.5 312.9L86.5 313.7L86.5 314.5L86.5 315.3L86.5 316.1L86.5 316.9L86.6 317.7L86.6 318.5L86.6 319.4L86.6 320.2L86.6 321.0L86.6 321.8L86.7 322.6L86.7 323.4L86.7 324.2L86.7 325.0L86.7 325.8L86.7 326.6L86.8 327.4L86.8 328.2L86.8 329.0L86.8 329.8L86.8 330.6L86.9 331.4L86.9 332.2L86.9 333.0L86.9 333.8L87.0 334.6L87.0 335.4L87.0 336.2L87.0 337.0L87.0 337.8L87.1 338.7L87.1 339.5L87.1 340.3L87.1 341.1L87.1 341.9L87.2 342.7L87.2 343.5L87.2 344.3L87.2 345.1L87.3 345.9L87.3 346.7L87.3 347.5L87.3 348.3L87.3 349.1L87.4 349.9L87.4 350.7L87.4 351.5L87.4 352.3L87.5 353.1L87.5 354.0L87.6 354.8L87.6 355.6L87.7 356.4L87.7 357.2L87.7 358.1L87.8 358.9L87.8 359.7L87.9 360.5L87.9 361.3L87.9 362.2L88.0 363.0L88.0 363.8L88.1 364.6L88.1 365.4L88.2 366.2L88.2 367.1L88.2 367.9L88.3 368.7L88.3 369.5L88.4 370.3L88.4 371.2L88.4 372.0L88.5 372.8L88.5 373.6L88.6 374.4L88.6 375.3L88.7 376.1L88.7 376.9L88.7 377.7L88.8 378.5L88.8 379.4L88.9 380.2L88.9 381.0L89.0 381.8L89.1 382.6L89.3 383.5L89.4 384.3L89.5 385.1L89.6 385.9L89.8 386.8L89.9 387.6L90.0 388.4L90.1 389.2L90.2 390.0L90.4 390.9L90.5 391.7L90.6 392.5"/>
<path d="M102.0 393.0L102.1 392.2L102.3 391.4L102.4 390.5L102.6 389.7L102.7 388.9L102.9 388.1L103.0 387.2L103.2 386.4L103.3 385.6L103.4 384.8L103.6 383.9L103.7 383.1L103.9 382.3L104.0 381.4L104.2 380.6L104.3 379.8"/>
<path d="M170.0 386.5L170.1 385.7L170.3 384.9L170.4 384.1L170.6 383.3L170.7 382.5L170.9 381.7L171.0 380.9L171.2 380.1L171.3 379.4L171.5 378.6L171.6 377.8L171.8 377.0L171.9 376.2L172.1 375.4L172.2 374.6L172.4 373.8L172.5 373.0L172.6 372.2L172.6 371.4L172.7 370.5L172.8 369.7L172.9 368.9L172.9 368.1L173.0 367.3L173.1 366.5L173.2 365.6L173.2 364.8L173.3 364.0L173.4 363.2L173.5 362.4L173.5 361.6L173.6 360.7L173.7 359.9L173.8 359.1L173.8 358.3L173.9 357.5L174.0 356.7L174.1 355.8L174.1 355.0L174.2 354.2"/>
<path d="M177.0 360.5L177.2 361.4L177.3 362.2L177.5 363.1L177.7 363.9L177.8 364.8L178.0 365.6L178.2 366.4L178.4 367.3L178.5 368.1L178.7 369.0"/>
<path d="M48.5 338.0L48.6 337.2L48.7 336.4L48.8 335.6L48.9 334.7L49.0 333.9L49.1 333.1L49.2 332.3L49.3 331.5L49.4 330.6L49.5 329.8L49.6 329.0L49.7 328.2L49.8 327.4L49.9 326.6L50.0 325.8L50.1 324.9L50.2 324.1L50.3 323.3L50.4 322.5L50.5 321.7L50.6 320.9L50.7 320.1L50.8 319.3L50.9 318.5L51.0 317.7L51.1 316.9L51.2 316.1L51.3 315.3L51.4 314.5L51.5 313.7L51.6 314.5L51.6 315.3L51.7 316.2L51.8 317.0L51.9 317.8L51.9 318.6L52.0 319.5L52.1 320.3L52.1 321.1L52.2 321.9L52.3 322.8L52.3 323.6L52.4 324.4L52.5 325.2L52.5 326.1L52.6 326.9L52.7 327.7L52.8 328.6L52.8 329.4L52.9 330.2L53.0 331.0L53.1 331.8L53.2 332.6L53.3 333.4L53.4 334.3L53.5 335.1L53.6 335.9L53.7 336.7L53.8 337.5L53.9 338.3L54.0 339.1L54.1 339.9L54.2 340.8L54.3 341.6L54.4 342.4L54.5 343.2L54.6 344.0"/>
<path d="M65.0 338.0L65.2 337.2L65.3 336.4L65.5 335.6L65.7 334.8L65.8 333.9L66.0 333.1L66.1 332.3L66.3 331.5L66.5 330.7L66.6 329.9L66.8 329.1L66.9 328.2L67.1 327.4L67.3 326.6L67.4 325.8L67.6 325.0"/>
<path d="M70.2 312.9L70.3 313.7L70.4 314.5L70.5 315.3L70.7 316.1L70.8 316.9L70.9 317.7L71.0 318.5L71.1 319.4L71.2 320.2L71.3 321.0L71.4 321.8L71.6 322.6L71.7 323.4L71.8 324.2L71.9 325.0L72.0 325.8L72.1 326.6L72.2 327.4L72.4 328.2L72.5 329.0L72.6 329.8L72.7 330.6L72.8 331.4L72.9 332.2L73.0 333.0L73.1 333.8L73.3 334.6L73.4 335.4L73.5 336.2L73.6 337.0L73.7 336.2L73.8 335.4L74.0 334.6L74.1 333.8L74.2 333.0L74.3 332.2L74.4 331.4L74.6 330.6L74.7 329.8L74.8 329.0L74.9 328.2L75.0 327.4L75.2 326.6L75.3 325.8L75.4 325.0"/>
<path d="M76.0 326.3L76.1 327.1L76.3 327.9L76.4 328.7L76.5 329.5L76.7 330.2L76.8 331.0L76.9 331.8L77.1 332.6L77.2 333.4L77.3 334.2L77.5 335.0L77.6 335.8L77.7 336.6L77.9 337.3L78.0 338.1L78.1 338.9L78.3 339.7L78.4 340.5L78.5 341.3L78.6 342.2L78.8 343.0L78.9 343.8L79.0 344.6L79.1 345.5L79.2 346.3L79.4 347.1L79.5 347.9L79.6 348.8L79.7 349.6L79.9 350.4L80.0 351.2L80.1 352.1L80.2 352.9L80.3 353.7L80.5 354.5L80.6 355.4L80.7 356.2"/>
<path d="M85.0 358.0L85.2 357.2L85.3 356.4L85.5 355.6L85.6 354.8L85.8 354.0L85.9 353.2L86.0 352.4L86.2 351.6L86.3 350.8L86.5 350.0L86.6 349.1L86.7 348.3L86.9 347.4L87.0 346.5L87.1 345.7L87.2 344.8L87.3 344.0L87.4 343.1L87.6 342.2L87.7 341.4L87.8 340.5L87.9 339.6L88.0 338.8L88.2 337.9L88.3 337.0L88.4 336.1L88.5 335.3L88.6 334.4L88.8 333.5L88.9 332.7L89.0 331.8"/>
<path d="M91.0 340.5L91.1 341.3L91.2 342.1L91.4 342.9L91.5 343.7L91.6 344.5L91.8 345.2L91.9 346.0L92.0 346.8L92.1 347.6L92.2 348.4L92.4 349.2L92.5 350.0"/>
<path d="M100.4 342.0L100.5 341.1L100.7 340.3L100.8 339.4L101.0 338.6L101.1 337.7L101.3 336.9L101.4 336.0L101.6 335.2L101.7 334.3L101.9 333.5L102.0 332.6L102.1 331.8L102.1 330.9L102.2 330.1L102.2 329.3L102.3 328.5L102.4 327.6L102.4 326.8L102.5 326.0L102.5 325.1L102.6 324.3L102.7 323.5L102.7 322.6L102.8 321.8L102.8 321.0L102.9 320.1L103.0 319.3L103.0 318.5L103.1 317.7L103.1 316.8L103.2 316.0L103.3 315.2L103.5 314.4L103.6 313.6L103.7 312.7L103.9 311.9L104.0 311.1L104.1 310.3L104.3 309.5L104.4 308.6L104.5 307.8L104.7 307.0L104.8 306.2"/>
<path d="M106.2 304.8L106.3 304.0L106.4 303.2L106.5 302.4L106.7 301.5L106.8 300.7L106.9 299.9L107.0 299.1L107.1 298.3L107.2 297.4L107.4 296.6L107.5 295.8L107.6 295.0L107.6 294.2L107.7 293.3L107.7 292.5L107.8 291.7L107.8 290.8L107.8 290.0L107.9 289.2L107.9 288.3L107.9 287.5L108.0 286.7L108.0 285.8L108.1 285.0L108.1 284.2L108.1 283.3L108.2 282.5L108.2 281.7L108.3 280.8L108.3 280.0L108.3 279.2L108.3 278.4L108.3 277.6L108.3 276.8L108.3 275.9L108.3 275.1L108.4 274.3L108.4 273.5L108.4 272.7L108.4 271.9L108.4 271.1L108.4 270.3L108.4 269.5L108.4 268.6L108.4 267.8L108.4 267.0L108.4 266.2L108.4 265.4L108.5 264.6L108.5 263.8L108.5 263.0L108.5 262.2L108.5 261.4L108.5 260.5L108.5 259.7L108.5 258.9L108.5 258.1L108.5 257.3L108.5 256.5L108.5 255.7L108.6 254.9L108.6 254.1L108.6 253.2L108.6 252.4L108.6 251.6L108.6 250.8L108.6 250.0L108.6 249.2L108.6 248.4L108.6 247.6L108.6 246.8L108.6 246.0L108.6 245.2L108.6 244.4L108.6 243.6L108.6 242.8L108.6 242.0L108.6 241.2L108.6 240.4L108.6 239.6L108.6 238.8L108.6 238.0L108.6 237.2L108.6 236.4L108.6 235.6L108.6 234.8L108.6 234.0L108.7 233.2L108.7 232.4L108.7 231.6L108.7 230.8L108.7 230.0L108.7 229.2L108.7 228.4L108.7 227.6L108.7 226.8L108.7 226.0L108.7 225.2L108.7 224.4L108.7 223.6L108.7 222.8L108.7 222.0L108.7 221.2L108.7 220.4L108.7 219.6L108.7 218.8L108.7 218.0L108.7 217.2L108.7 216.4L108.7 215.6L108.7 214.8L108.7 214.0L108.7 213.2L108.7 212.4L108.7 211.6L108.7 210.8L108.7 210.0L108.7 209.2L108.7 208.4L108.7 207.6L108.7 206.8L108.7 206.0L108.7 205.2L108.7 204.4L108.7 203.6L108.7 202.8L108.8 202.0L108.8 201.2L108.8 200.4L108.8 199.6L108.8 198.8L108.8 198.0L108.8 197.2L108.8 196.4L108.8 195.6L108.8 194.8L108.8 194.0L108.8 193.2L108.8 192.4L108.8 191.6L108.8 190.8L108.8 190.0L108.8 189.2L108.8 188.4L108.8 187.6L108.8 186.8L108.8 186.0L108.8 185.2L108.8 184.4L108.8 183.6L108.8 182.8L108.8 182.0L108.8 181.2L108.8 180.4L108.8 179.6L108.8 178.8L108.8 178.0L108.8 177.2L108.8 176.4L108.8 175.6L108.8 174.8L108.8 174.0L108.8 173.2L108.8 172.4L108.8 171.6L108.8 170.8L108.9 170.0L108.9 169.2L108.9 168.4L108.9 167.6L108.9 166.8L108.9 166.0L108.9 165.2L108.9 164.4L108.9 163.6L108.9 162.8L108.9 162.0L108.9 161.2L108.9 160.4L108.9 159.6L108.9 158.8L108.9 158.0L108.9 157.2L108.9 156.4L108.9 155.6L108.9 154.8L108.9 154.0L108.9 154.8L108.9 155.6L108.9 156.4L108.9 157.2L108.9 158.0L109.0 158.8L109.0 159.6L109.0 160.5L109.0 161.3L109.0 162.1L109.0 162.9L109.0 163.7L109.0 164.5L109.0 165.3L109.0 166.1L109.0 166.9L109.0 167.7L109.1 168.5L109.1 169.3L109.1 170.1L109.1 170.9L109.1 171.8L109.1 172.6L109.1 173.4L109.1 174.2L109.1 175.0L109.1 175.8L109.1 176.6L109.2 177.4L109.2 178.2L109.2 179.0L109.2 179.8L109.2 180.6L109.2 181.4L109.2 182.2L109.2 183.1L109.2 183.9L109.2 184.7L109.2 185.5L109.3 186.3L109.3 187.1L109.3 187.9L109.3 188.7L109.3 189.5L109.3 190.3L109.3 191.1L109.3 191.9L109.3 192.7L109.3 193.5L109.3 194.4L109.3 195.2L109.4 196.0L109.4 196.8L109.4 197.6L109.4 198.4L109.4 199.2L109.4 200.0L109.4 200.8L109.4 201.6L109.4 202.4L109.4 203.2L109.4 204.0L109.4 204.8L109.5 205.6L109.5 206.5L109.5 207.3L109.5 208.1L109.5 208.9L109.5 209.7L109.5 210.5L109.5 211.3L109.5 212.1L109.5 212.9L109.5 213.7L109.5 214.5L109.6 215.3L109.6 216.1L109.6 216.9L109.6 217.7L109.6 218.5L109.6 219.4L109.6 220.2L109.6 221.0L109.6 221.8L109.6 222.6L109.6 223.4L109.6 224.2L109.7 225.0L109.7 225.8L109.7 226.6L109.7 227.4L109.7 228.2L109.7 229.0L109.7 229.8L109.7 230.6L109.7 231.5L109.7 232.3L109.7 233.1L109.7 233.9L109.7 234.7L109.8 235.5L109.8 236.3L109.8 237.1L109.8 237.9L109.8 238.7L109.8 239.5L109.8 240.3L109.8 241.1L109.8 241.9L109.8 242.7L109.8 243.5L109.8 244.4L109.9 245.2L109.9 246.0L109.9 246.8L109.9 247.6L109.9 248.4L109.9 249.2L109.9 250.0L109.9 250.8L109.9 251.6L110.0 252.4L110.0 253.2L110.0 254.1L110.0 254.9L110.0 255.7L110.1 256.5L110.1 257.3L110.1 258.1L110.1 258.9L110.1 259.7L110.1 260.5L110.2 261.4L110.2 262.2L110.2 263.0L110.2 263.8L110.2 264.6L110.3 265.4L110.3 266.2L110.3 267.0L110.3 267.8L110.3 268.6L110.4 269.5L110.4 270.3L110.4 271.1L110.4 271.9L110.4 272.7L110.4 273.5L110.5 274.3L110.5 275.1L110.5 275.9L110.5 276.8L110.5 277.6L110.6 278.4L110.6 279.2L110.6 280.0L110.6 280.8L110.7 281.6L110.7 282.4L110.7 283.2L110.8 284.0L110.8 284.8L110.8 285.6L110.9 286.4L110.9 287.2L110.9 288.0L111.0 288.8L111.0 289.6L111.0 290.4L111.0 291.2L111.1 292.0L111.1 292.8L111.1 293.6L111.2 294.4L111.2 295.2L111.2 296.0L111.3 296.8L111.3 297.6L111.3 298.4L111.4 299.2L111.4 300.0L111.4 300.8L111.4 301.6L111.5 302.4L111.5 303.2L111.5 304.0L111.5 304.8L111.5 305.6L111.6 306.4L111.6 307.2L111.6 308.0L111.6 308.8L111.6 309.6L111.7 310.4L111.7 311.2L111.7 312.0L111.7 312.8L111.7 313.6L111.8 314.4L111.8 315.2L111.8 316.0L111.8 316.8L111.8 317.6L111.9 318.4L111.9 319.2L111.9 320.0L111.9 320.8L112.0 321.7L112.0 322.5L112.0 323.3L112.1 324.1L112.1 325.0L112.1 325.8L112.2 326.6L112.2 327.4L112.2 328.3L112.2 329.1L112.3 329.9L112.3 330.7L112.3 331.6L112.4 332.4L112.4 333.2L112.4 334.0L112.5 334.9L112.5 335.7L112.6 336.6L112.7 337.4L112.9 338.3L113.0 339.2L113.1 340.0L113.2 340.9L113.3 341.7L113.4 342.6L113.6 343.5L113.7 344.3L113.8 345.2"/>
<path d="M126.4 335.7L126.5 334.8L126.7 334.0L126.8 333.1L127.0 332.2L127.1 331.4L127.3 330.5L127.4 329.6L127.6 328.8L127.7 327.9"/>
<path d="M193.3 335.0L193.5 334.1L193.6 333.3L193.8 332.4L194.0 331.6L194.1 330.8L194.3 329.9L194.5 329.1L194.6 328.2L194.8 327.4L195.0 326.5L195.1 325.7L195.3 324.8L195.4 324.0L195.5 323.2L195.5 322.3L195.6 321.5L195.7 320.7L195.8 319.9L195.9 319.0L195.9 318.2L196.0 317.4L196.1 316.6L196.2 315.7L196.3 314.9L196.4 314.1L196.4 313.3L196.5 312.4L196.6 311.6L196.7 310.8L196.8 310.0L196.8 309.1L196.9 308.3L197.0 307.5L197.1 306.7L197.3 305.9L197.4 305.1L197.5 304.3L197.6 303.5L197.8 302.8L197.9 302.0L198.0 301.2L198.1 300.4L198.3 299.6L198.4 298.8"/>
<path d="M201.6 302.3L201.7 303.1L201.8 303.9L201.9 304.7L202.0 305.5L202.1 306.3L202.2 307.1L202.2 307.9L202.3 308.7L202.4 309.5L202.5 310.3L202.6 311.1L202.7 311.9L202.8 312.7"/>
<path d="M222.7 293.7L222.8 292.9L223.0 292.1L223.1 291.3L223.3 290.5L223.4 289.7L223.6 288.9L223.7 288.1L223.9 287.3L224.0 286.5L224.2 285.7L224.3 284.9L224.5 284.1L224.6 283.3L224.8 282.5L224.9 281.7"/>
<path d="M339.2 291.0L339.4 290.2L339.5 289.4L339.7 288.6L339.8 287.8L340.0 287.0L340.1 286.2L340.3 285.4L340.4 284.6L340.6 283.9L340.7 283.1L340.9 282.3L341.0 281.5L341.2 280.7L341.3 279.9L341.5 279.1L341.6 278.3L341.8 277.5"/>
<path d="M70.8 290.0L70.9 289.2L71.0 288.3L71.1 287.5L71.2 286.7L71.3 285.8L71.4 285.0L71.5 284.2L71.5 283.3L71.6 282.5L71.7 281.7L71.8 280.8L71.9 280.0L72.0 279.2L72.1 278.3L72.2 277.5L72.3 276.7L72.4 275.9L72.4 275.1L72.5 274.3L72.6 273.5L72.7 272.7L72.7 271.9L72.8 271.1L72.9 270.2L73.0 269.4L73.1 268.6L73.1 267.8L73.2 267.0L73.3 266.2L73.4 265.4L73.4 264.6L73.5 263.8L73.6 263.0L73.7 263.8L73.8 264.6L73.8 265.4L73.9 266.2L74.0 267.0L74.1 267.8L74.1 268.6L74.2 269.4L74.3 270.2L74.4 271.1L74.5 271.9L74.5 272.7L74.6 273.5L74.7 274.3L74.8 275.1L74.8 275.9L74.9 276.7L75.0 277.5L75.1 278.3L75.1 279.1L75.2 279.9L75.3 280.7L75.3 281.5L75.4 282.3L75.5 283.1L75.5 283.9L75.6 284.7L75.7 285.5L75.8 286.3L75.8 287.1L75.9 287.9L76.0 288.7L76.0 289.5L76.1 290.3L76.2 291.1L76.2 291.9L76.3 292.7"/>
<path d="M89.0 280.0L89.2 279.1L89.3 278.3L89.5 277.4L89.7 276.6L89.8 275.7L90.0 274.9L90.1 274.0L90.3 273.2L90.5 272.3L90.6 271.5L90.8 270.6"/>
<path d="M93.8 280.0L93.9 280.8L94.0 281.7L94.1 282.5L94.2 283.4L94.3 284.2L94.4 285.1L94.6 285.9L94.7 286.8L94.8 287.6L94.9 288.5L95.0 289.3L95.1 290.2L95.2 291.0L95.3 291.8L95.4 292.6L95.5 293.4L95.6 294.2L95.7 295.0L95.8 295.9L95.8 296.7L95.9 297.5L96.0 298.3L96.1 299.1L96.2 299.9L96.3 300.7L96.4 299.9L96.5 299.1L96.5 298.3L96.6 297.5L96.7 296.7L96.8 295.9L96.8 295.0L96.9 294.2L97.0 293.4L97.0 292.6L97.1 291.8L97.2 291.0L97.2 290.2L97.3 289.3L97.3 288.5L97.3 287.6L97.4 286.8L97.4 285.9L97.4 285.1L97.5 284.2L97.5 283.4L97.5 282.6L97.5 281.7L97.6 280.9L97.6 280.0L97.6 279.2L97.7 278.3L97.7 277.5L97.8 278.3L97.9 279.2L98.1 280.0L98.2 280.8L98.3 281.7L98.4 282.5L98.6 283.3L98.7 284.1L98.8 285.0L98.9 285.8L99.1 286.6L99.2 287.5L99.3 288.3L99.4 289.1L99.5 289.9L99.7 290.7L99.8 291.5L99.9 292.3L100.0 293.1L100.1 294.0L100.2 294.8L100.3 295.6L100.5 296.4L100.6 297.2L100.7 298.0L100.8 298.8L100.9 299.6L101.0 300.4L101.1 301.2L101.2 302.0L101.3 302.8L101.5 303.6L101.6 304.4L101.7 305.2L101.8 306.0L101.9 306.8L102.0 307.6L102.1 308.4L102.2 309.3L102.4 310.1L102.5 310.9L102.6 311.8L102.7 312.6L102.8 313.4L103.0 314.2L103.1 315.1L103.2 315.9L103.3 315.1L103.5 314.3L103.6 313.5L103.8 312.7L103.9 311.9L104.0 311.2L104.2 310.4L104.3 309.6L104.5 308.8L104.6 308.0L104.7 307.2L104.9 306.4L105.0 305.6L105.2 304.8L105.3 304.0L105.4 303.2L105.6 302.4L105.7 301.6L105.9 300.8L106.0 300.0L106.1 299.2L106.2 298.3L106.3 297.5L106.4 296.7L106.5 295.8L106.7 295.0L106.8 294.2L106.9 293.3L107.0 292.5L107.1 291.7L107.2 290.8L107.3 290.0L107.4 289.2L107.5 288.4L107.6 287.5L107.7 286.7L107.8 285.9L107.8 285.1L107.9 284.3L108.0 283.5L108.1 282.6L108.2 281.8L108.3 281.0"/>
<path d="M111.8 287.0L112.0 287.9L112.1 288.7L112.2 289.6L112.4 290.4L112.5 291.2L112.7 292.1L112.8 292.9L113.0 293.8L113.1 294.6L113.2 295.4L113.4 296.2L113.5 297.0L113.6 297.8L113.8 298.6L113.9 299.4L114.0 300.2L114.1 301.0L114.2 301.8L114.4 302.6L114.5 303.4"/>
<path d="M122.8 289.7L123.0 288.8L123.1 288.0L123.2 287.1L123.4 286.2L123.5 285.4L123.7 284.5L123.8 283.7L124.0 282.8L124.1 282.0L124.1 281.1L124.2 280.3L124.2 279.5L124.3 278.6L124.4 277.8L124.4 277.0L124.5 276.2L124.6 275.3L124.6 274.5L124.7 273.7L124.7 272.8L124.8 272.0L124.9 271.2L125.1 270.3L125.2 269.5L125.3 268.7L125.4 267.9L125.6 267.0L125.7 266.2L125.8 265.4L125.9 264.6L126.1 263.7L126.2 262.9L126.3 262.1L126.4 261.3L126.6 260.4L126.7 259.6L126.8 258.8L126.9 258.0L127.0 257.2L127.1 256.4L127.2 255.6L127.3 254.8L127.5 254.0L127.6 253.2L127.7 252.4L127.8 251.6L127.9 250.8L128.0 250.0L128.1 249.1L128.2 248.2L128.3 247.4L128.4 246.5L128.6 245.6L128.7 244.8L128.8 243.9L128.9 243.0L128.9 242.2L129.0 241.4L129.0 240.5L129.0 239.7L129.1 238.9L129.1 238.1L129.1 237.3L129.2 236.5L129.2 235.6L129.2 234.8L129.2 234.0L129.3 233.2L129.3 232.4L129.3 231.5L129.4 230.7L129.4 229.9L129.4 229.1L129.5 228.3L129.5 227.5L129.5 226.6L129.6 225.8L129.6 225.0L129.6 224.2L129.6 223.4L129.7 222.6L129.7 221.8L129.7 221.0L129.7 220.2L129.7 219.4L129.8 218.5L129.8 217.7L129.8 216.9L129.8 216.1L129.8 215.3L129.9 214.5L129.9 213.7L129.9 212.9L129.9 212.1L129.9 211.3L129.9 210.5L130.0 209.7L130.0 208.9L130.0 208.1L130.0 207.3L130.0 206.5L130.1 205.6L130.1 204.8L130.1 204.0L130.1 203.2L130.1 202.4L130.2 201.6L130.2 200.8L130.2 200.0L130.2 199.2L130.2 198.4L130.2 197.6L130.2 196.8L130.2 196.0L130.2 195.2L130.2 194.4L130.2 193.6L130.3 192.8L130.3 192.0L130.3 191.2L130.3 190.4L130.3 189.6L130.3 188.8L130.3 188.0L130.3 187.2L130.3 186.4L130.3 185.6L130.3 184.7L130.3 183.9L130.3 183.1L130.3 182.3L130.3 181.5L130.3 180.7L130.4 179.9L130.4 179.1L130.4 178.3L130.4 177.5L130.4 176.7L130.4 175.9L130.4 175.1L130.4 174.3L130.4 173.5L130.4 172.7L130.4 171.9L130.4 171.1L130.4 170.3L130.4 169.5L130.4 168.7L130.4 167.9L130.4 167.1L130.5 166.3L130.5 165.5L130.5 164.7L130.5 163.9L130.5 163.1L130.5 162.3L130.5 161.5L130.5 160.7L130.5 159.9L130.5 159.1L130.5 158.3L130.5 157.5L130.5 156.7L130.5 155.9L130.5 155.0L130.5 154.2L130.6 153.4L130.6 152.6L130.6 151.8L130.6 151.0L130.6 150.2L130.6 149.4L130.6 148.6L130.6 147.8L130.6 147.0L130.6 146.2L130.6 145.4L130.6 144.6L130.6 143.8L130.6 143.0L130.6 142.2L130.6 141.4L130.6 140.6L130.7 139.8L130.7 139.0L130.7 138.2L130.7 137.4L130.7 136.6L130.7 135.8L130.7 135.0L130.7 134.2L130.7 133.4L130.7 132.6L130.7 131.8L130.7 131.0L130.7 130.2L130.7 129.4L130.7 128.6L130.7 127.8L130.8 127.0L130.8 126.2L130.8 125.3L130.8 124.5L130.8 123.7L130.8 122.9L130.8 122.1L130.8 121.3L130.8 120.5L130.8 119.7L130.8 118.9L130.8 118.1L130.8 117.3L130.8 116.5L130.8 115.7L130.8 114.9L130.9 114.1L130.9 113.3L130.9 112.5L130.9 111.7L130.9 110.9L130.9 110.1L130.9 109.3L130.9 108.5L130.9 107.7L130.9 106.9L130.9 106.1L130.9 105.3L130.9 104.5L130.9 103.7L130.9 102.9L130.9 102.1L130.9 101.3L131.0 100.5L131.0 99.7L131.0 98.9L131.0 98.1L131.0 97.3L131.0 96.5L131.0 95.6L131.0 94.8L131.0 94.0L131.0 93.2L131.0 92.4L131.0 91.6L131.0 90.8L131.0 90.0L131.0 89.2L131.0 88.4L131.1 87.6L131.1 86.8L131.1 86.0L131.1 85.2L131.1 84.4L131.1 83.6L131.1 82.8L131.1 82.0L131.1 81.2L131.1 82.0L131.1 82.8L131.1 83.6L131.1 84.4L131.1 85.2L131.1 86.0L131.1 86.8L131.1 87.6L131.2 88.4L131.2 89.2L131.2 90.0L131.2 90.8L131.2 91.6L131.2 92.4L131.2 93.2L131.2 94.0L131.2 94.8L131.2 95.6L131.2 96.5L131.2 97.3L131.2 98.1L131.2 98.9L131.2 99.7L131.2 100.5L131.3 101.3L131.3 102.1L131.3 102.9L131.3 103.7L131.3 104.5L131.3 105.3L131.3 106.1L131.3 106.9L131.3 107.7L131.3 108.5L131.3 109.3L131.3 110.1L131.3 110.9L131.3 111.7L131.3 112.5L131.3 113.3L131.3 114.1L131.4 114.9L131.4 115.7L131.4 116.5L131.4 117.3L131.4 118.1L131.4 118.9L131.4 119.7L131.4 120.5L131.4 121.3L131.4 122.1L131.4 122.9L131.4 123.7L131.4 124.5L131.4 125.3L131.4 126.2L131.4 127.0L131.5 127.8L131.5 128.6L131.5 129.4L131.5 130.2L131.5 131.0L131.5 131.8L131.5 132.6L131.5 133.4L131.5 134.2L131.5 135.0L131.5 135.8L131.5 136.6L131.5 137.4L131.5 138.2L131.5 139.0L131.5 139.8L131.6 140.6L131.6 141.4L131.6 142.2L131.6 143.0L131.6 143.8L131.6 144.6L131.6 145.4L131.6 146.2L131.6 147.0L131.6 147.8L131.6 148.6L131.6 149.4L131.6 150.2L131.6 151.0L131.6 151.8L131.6 152.6L131.6 153.4L131.7 154.2L131.7 155.0L131.7 155.9L131.7 156.7L131.7 157.5L131.7 158.3L131.7 159.1L131.7 159.9L131.7 160.7L131.7 161.5L131.7 162.3L131.7 163.1L131.7 163.9L131.7 164.7L131.7 165.5L131.7 166.3L131.8 167.1L131.8 167.9L131.8 168.7L131.8 169.5L131.8 170.3L131.8 171.1L131.8 171.9L131.8 172.7L131.8 173.5L131.8 174.3L131.8 175.1L131.8 175.9L131.8 176.7L131.8 177.5L131.8 178.3L131.8 179.1L131.8 179.9L131.9 180.7L131.9 181.5L131.9 182.3L131.9 183.1L131.9 183.9L131.9 184.7L131.9 185.6L131.9 186.4L131.9 187.2L131.9 188.0L131.9 188.8L131.9 189.6L131.9 190.4L131.9 191.2L131.9 192.0L131.9 192.8L132.0 193.6L132.0 194.4L132.0 195.2L132.0 196.0L132.0 196.8L132.0 197.6L132.0 198.4L132.0 199.2L132.0 200.0L132.0 200.8L132.0 201.6L132.0 202.4L132.0 203.2L132.1 204.0L132.1 204.8L132.1 205.6L132.1 206.4L132.1 207.2L132.1 208.0L132.1 208.8L132.1 209.6L132.1 210.4L132.2 211.2L132.2 212.1L132.2 212.9L132.2 213.7L132.2 214.5L132.2 215.3L132.2 216.1L132.2 216.9L132.2 217.7L132.2 218.5L132.3 219.3L132.3 220.1L132.3 220.9L132.3 221.7L132.3 222.5L132.3 223.3L132.3 224.1L132.3 224.9L132.3 225.7L132.4 226.5L132.4 227.3L132.4 228.1L132.4 228.9L132.4 229.7L132.4 230.5L132.4 231.3L132.4 232.1L132.4 232.9L132.4 233.8L132.5 234.6L132.5 235.4L132.5 236.2L132.5 237.0L132.5 237.8L132.5 238.6L132.5 239.4L132.5 240.2L132.5 241.0L132.6 241.8L132.6 242.6L132.6 243.4L132.6 244.2L132.6 245.0L132.6 245.8L132.7 246.6L132.7 247.4L132.7 248.2L132.7 249.0L132.8 249.9L132.8 250.7L132.8 251.5L132.9 252.3L132.9 253.1L132.9 253.9L132.9 254.7L133.0 255.5L133.0 256.3L133.0 257.1L133.1 258.0L133.1 258.8L133.1 259.6L133.1 260.4L133.2 261.2L133.2 262.0L133.2 262.8L133.3 263.6L133.3 264.4L133.4 265.2L133.4 266.1L133.5 266.9L133.5 267.7L133.6 268.5L133.7 269.3L133.7 270.1L133.8 270.9L133.8 271.8L133.8 272.6L133.9 273.4L133.9 274.2L134.0 275.0L134.1 275.8L134.1 276.7L134.2 277.5L134.3 278.3L134.3 279.2L134.4 280.0L134.5 280.8L134.5 281.7L134.6 282.5L134.7 283.3L134.7 284.2L134.8 285.0L134.9 285.8L134.9 286.7L135.0 287.5L135.0 288.3L135.1 289.1L135.1 290.0L135.2 290.8L135.3 291.6L135.3 292.4L135.4 293.3L135.4 294.1L135.5 294.9L135.6 295.7L135.6 296.6L135.7 297.4L135.7 298.2L135.8 299.0L135.8 299.9L135.9 300.7"/>
<path d="M148.3 295.2L148.4 294.4L148.6 293.5L148.7 292.7L148.9 291.9L149.0 291.0L149.1 290.2L149.3 289.4L149.4 288.6L149.6 287.7L149.7 286.9L149.8 286.0L149.9 285.1L150.0 284.2L150.1 283.4L150.2 282.5L150.3 281.6L150.4 280.7"/>
<path d="M216.5 287.0L216.6 286.2L216.8 285.4L216.9 284.5L217.0 283.7L217.2 282.9L217.3 282.1L217.5 281.3L217.6 280.5L217.7 279.6L217.9 278.8L218.0 278.0L218.1 277.2L218.2 276.4L218.2 275.6L218.3 274.8L218.4 274.0L218.5 273.1L218.6 272.3L218.6 271.5L218.7 270.7L218.8 269.9L218.9 269.1L219.0 268.3L219.1 267.5L219.1 266.7L219.2 265.9L219.3 265.0L219.4 264.2L219.5 263.4L219.5 262.6L219.6 261.8L219.7 261.0L219.8 260.2L219.8 259.4L219.9 258.5L220.0 257.7L220.0 256.9L220.1 256.1L220.2 255.2L220.2 254.4L220.3 253.6L220.3 252.8L220.4 251.9L220.5 251.1L220.5 250.3L220.6 249.5L220.7 248.6L220.7 247.8L220.8 247.0"/>
<path d="M221.9 247.0L222.0 247.9L222.1 248.8L222.1 249.6L222.2 250.5L222.3 251.4L222.3 252.2L222.4 253.1L222.5 254.0L222.6 254.8L222.7 255.6L222.8 256.4L222.9 257.2L223.0 258.0L223.1 258.8L223.1 259.6L223.2 260.4L223.3 261.2L223.4 262.0L223.5 262.8L223.6 263.6L223.7 264.4L223.8 265.3L224.0 266.1L224.2 267.0L224.3 267.9L224.4 268.7L224.6 269.6L224.8 270.4L224.9 271.3"/>
<path d="M245.8 239.8L245.9 239.0L246.1 238.2L246.2 237.4L246.4 236.6L246.5 235.8L246.6 235.0L246.8 234.2L246.9 233.4L247.0 232.6L247.2 231.8L247.3 231.0L247.5 230.2L247.6 229.4"/>
<path d="M360.4 254.0L360.6 253.2L360.7 252.4L360.9 251.6L361.0 250.8L361.2 249.9L361.3 249.1L361.5 248.3L361.6 247.5L361.8 246.7L361.9 245.9L362.1 245.1L362.2 244.3L362.4 243.4L362.5 242.6L362.7 241.8L362.8 241.0L363.0 240.2"/>
<path d="M86.7 263.7L86.8 262.9L86.9 262.1L87.0 261.3L87.1 260.5L87.2 259.7L87.3 258.9L87.5 258.0L87.6 257.2L87.7 256.4L87.8 255.6L87.9 254.8L88.0 254.0"/>
<path d="M89.2 248.5L89.3 249.4L89.4 250.2L89.5 251.1L89.7 251.9L89.8 252.8L89.9 253.7L90.0 254.5L90.1 255.4L90.2 256.3L90.3 257.1L90.4 258.0L90.5 258.8L90.6 259.7L90.7 260.5L90.9 261.4L91.0 262.2L91.1 263.1L91.2 263.9L91.3 264.8L91.4 265.6L91.5 266.5"/>
<path d="M106.5 251.0L106.6 250.2L106.7 249.4L106.8 248.6L107.0 247.8L107.1 247.0L107.2 246.2L107.3 245.4L107.4 244.6"/>
<path d="M112.9 259.6L113.0 260.4L113.2 261.3L113.3 262.1L113.5 262.9L113.6 263.8L113.7 264.6L113.9 265.4L114.0 266.2L114.2 267.1L114.3 267.9"/>
<path d="M138.5 262.0L138.6 261.2L138.6 260.4L138.7 259.6L138.8 258.8L138.8 258.0L138.9 257.2L139.0 256.4L139.0 255.6L139.1 254.8L139.2 254.0L139.2 253.2L139.3 252.4L139.4 251.6L139.4 250.8L139.5 250.0L139.6 249.1L139.8 248.2L139.9 247.4L140.0 246.5L140.1 245.6L140.2 244.8L140.4 243.9L140.5 243.0"/>
<path d="M144.0 230.0L144.1 229.1L144.2 228.2L144.3 227.4L144.4 226.5L144.5 225.6L144.6 224.8L144.7 223.9L144.8 223.0L144.8 222.2L144.9 221.4L144.9 220.5L144.9 219.7L144.9 218.9L145.0 218.1L145.0 217.2L145.0 216.4L145.1 215.6L145.1 214.8L145.1 214.0L145.1 213.1L145.2 212.3L145.2 211.5L145.2 210.7L145.3 209.9L145.3 209.0L145.3 208.2L145.3 207.4L145.4 206.6L145.4 205.8L145.4 204.9L145.5 204.1L145.5 203.3L145.5 202.5L145.5 201.6L145.6 200.8L145.6 200.0L145.6 199.2L145.6 198.4L145.6 197.6L145.6 196.8L145.6 196.0L145.7 195.2L145.7 194.4L145.7 193.6L145.7 192.8L145.7 192.0L145.7 191.2L145.7 190.4L145.7 189.6L145.7 188.8L145.7 188.0L145.7 187.2L145.7 186.4L145.8 185.6L145.8 184.8L145.8 184.0L145.8 183.2L145.8 182.4L145.8 181.6L145.8 180.7L145.8 179.9L145.8 179.1L145.8 178.3L145.8 177.5L145.8 176.7L145.9 175.9L145.9 175.1L145.9 174.3L145.9 173.5L145.9 172.7L145.9 171.9L145.9 171.1L145.9 170.3L145.9 169.5L145.9 168.7L145.9 167.9L146.0 167.1L146.0 166.3L146.0 165.5L146.0 164.7L146.0 163.9L146.0 163.1L146.0 162.3L146.0 161.5L146.0 160.7L146.0 159.9L146.0 159.1L146.0 158.3L146.1 157.5L146.1 156.7L146.1 155.9L146.1 155.1L146.1 154.3L146.1 153.5L146.1 152.7L146.1 151.9L146.1 151.1L146.1 150.3L146.1 149.5L146.2 148.7L146.2 147.9L146.2 147.1L146.2 146.3L146.2 145.5L146.2 144.7L146.2 143.8L146.2 143.0L146.2 142.2L146.2 141.4L146.2 140.6L146.2 139.8L146.3 139.0L146.3 138.2L146.3 137.4L146.3 136.6L146.3 135.8L146.3 135.0L146.3 134.2L146.3 133.4L146.3 132.6L146.3 131.8L146.3 131.0L146.3 130.2L146.4 129.4L146.4 128.6L146.4 127.8L146.4 127.0L146.4 126.2L146.4 125.4L146.4 126.2L146.4 127.0L146.4 127.8L146.4 128.6L146.4 129.4L146.5 130.2L146.5 131.0L146.5 131.8L146.5 132.6L146.5 133.4L146.5 134.2L146.5 135.0L146.5 135.8L146.5 136.6L146.5 137.4L146.5 138.2L146.5 139.0L146.6 139.8L146.6 140.6L146.6 141.4L146.6 142.2L146.6 143.0L146.6 143.8L146.6 144.7L146.6 145.5L146.6 146.3L146.6 147.1L146.6 147.9L146.6 148.7L146.7 149.5L146.7 150.3L146.7 151.1L146.7 151.9L146.7 152.7L146.7 153.5L146.7 154.3L146.7 155.1L146.7 155.9L146.7 156.7L146.7 157.5L146.8 158.3L146.8 159.1L146.8 159.9L146.8 160.7L146.8 161.5L146.8 162.3L146.8 163.1L146.8 163.9L146.8 164.7L146.8 165.5L146.8 166.3L146.8 167.1L146.9 167.9L146.9 168.7L146.9 169.5L146.9 170.3L146.9 171.1L146.9 171.9L146.9 172.7L146.9 173.5L146.9 174.3L146.9 175.1L146.9 175.9L147.0 176.7L147.0 177.5L147.0 178.3L147.0 179.1L147.0 179.9L147.0 180.7L147.0 181.6L147.0 182.4L147.0 183.2L147.0 184.0L147.0 184.8L147.0 185.6L147.1 186.4L147.1 187.2L147.1 188.0L147.1 188.8L147.1 189.6L147.1 190.4L147.1 191.2L147.1 192.0L147.1 192.8L147.1 193.6L147.1 194.4L147.1 195.2L147.2 196.0L147.2 196.8L147.2 197.6L147.2 198.4L147.2 199.2L147.2 200.0L147.2 200.8L147.3 201.7L147.3 202.5L147.4 203.3L147.4 204.2L147.5 205.0L147.5 205.8L147.6 206.7L147.6 207.5L147.6 208.3L147.7 209.2L147.7 210.0L147.8 210.8L147.8 211.7L147.9 212.5L147.9 213.3L148.0 214.2L148.0 215.0L148.0 215.8L148.0 216.6L148.0 217.4L148.1 218.3L148.1 219.1L148.1 219.9L148.1 220.7L148.1 221.5L148.1 222.3L148.2 223.2L148.2 224.0L148.2 224.8L148.2 225.6L148.2 226.4L148.2 227.2L148.3 228.1L148.3 228.9L148.3 229.7L148.3 230.5L148.3 231.3L148.3 232.1L148.3 232.9L148.4 233.8L148.4 234.6L148.4 235.4L148.4 236.2L148.4 237.0L148.4 237.8L148.5 238.7L148.5 239.5L148.5 240.3L148.5 241.1L148.5 241.9L148.5 242.7L148.6 243.6L148.6 244.4L148.6 245.2L148.6 246.0L148.7 246.8L148.7 247.6L148.8 248.4L148.8 249.2L148.9 250.1L148.9 250.9L149.0 251.7L149.1 252.5L149.1 253.3L149.2 254.1L149.2 254.9L149.3 255.8L149.3 256.6L149.4 257.4L149.4 258.2L149.5 259.0L149.6 259.8L149.6 260.6L149.7 261.4L149.7 262.2L149.8 263.1L149.8 263.9L149.9 264.7L149.9 265.5L150.0 266.3L150.1 267.1L150.1 267.9L150.2 268.8L150.2 269.6L150.3 270.4L150.3 271.2L150.4 272.0"/>
<path d="M232.7 240.2L232.8 239.4L232.9 238.5L233.0 237.7L233.1 236.9L233.3 236.0L233.4 235.2L233.5 234.4L233.6 233.5L233.7 232.7L233.8 231.8L233.9 231.0L234.0 230.2L234.2 229.3L234.3 228.5L234.4 227.7L234.5 226.8L234.6 226.0L234.7 225.2L234.8 224.3L234.9 223.5L235.0 222.7L235.1 221.9L235.2 221.1L235.3 220.2L235.4 219.4L235.6 218.6L235.7 217.8L235.8 216.9L235.9 216.1L236.0 215.3L236.1 214.5L236.2 213.6L236.3 212.8L236.4 213.6L236.5 214.4L236.6 215.2L236.6 216.1L236.7 216.9L236.8 217.7L236.9 218.5L237.0 219.3L237.1 220.1L237.2 220.9L237.2 221.8L237.3 222.6L237.4 223.4L237.5 224.2L237.6 225.0L237.7 225.8L237.8 226.6L237.9 227.4L238.0 228.2L238.1 229.0L238.3 229.8L238.4 230.6L238.5 231.4L238.6 232.2L238.7 233.0L238.8 233.8L238.9 234.6"/>
<path d="M260.0 218.0L260.1 217.2L260.3 216.4L260.4 215.5L260.5 214.7L260.7 213.9L260.8 213.1L261.0 212.3L261.1 211.5L261.2 210.6L261.4 209.8L261.5 209.0"/>
<path d="M345.7 212.5L345.8 213.3L346.0 214.1L346.1 214.9L346.2 215.7L346.4 216.5L346.5 217.3L346.6 218.1L346.7 218.9L346.9 219.7L347.0 220.5L347.1 221.3L347.3 222.1L347.4 222.9"/>
<path d="M102.5 235.0L102.6 234.2L102.8 233.4L102.9 232.5L103.0 231.7L103.2 230.9L103.3 230.1L103.5 229.3L103.6 228.5L103.7 227.6L103.9 226.8L104.0 226.0L104.1 226.9L104.2 227.8L104.4 228.6L104.5 229.5L104.6 230.4L104.8 231.2L104.9 232.1L105.0 233.0L105.1 233.8L105.2 234.6L105.3 235.4L105.4 236.2L105.5 237.0L105.6 237.8L105.7 238.6L105.8 239.4L105.9 240.2L106.0 241.0"/>
<path d="M122.2 227.5L122.3 228.3L122.5 229.2L122.6 230.0L122.8 230.8L122.9 231.7L123.1 232.5L123.2 233.3L123.4 234.2L123.5 235.0"/>
<path d="M126.5 241.0L126.6 240.2L126.7 239.4L126.8 238.6L126.9 237.8L127.0 237.0L127.1 236.2L127.2 235.4L127.3 234.6L127.4 233.8L127.5 233.0"/>
<path d="M133.0 245.0L133.1 245.9L133.1 246.8L133.2 247.6L133.2 248.5L133.3 249.4L133.4 250.2L133.4 251.1L133.5 252.0"/>
<path d="M144.0 230.0L144.1 229.1L144.2 228.2L144.3 227.4L144.4 226.5L144.5 225.6L144.6 224.8L144.7 223.9L144.8 223.0"/>
<path d="M146.4 230.0L146.5 230.8L146.7 231.6L146.8 232.4L146.9 233.2L147.1 234.1L147.2 234.9L147.3 235.7L147.4 236.5L147.6 237.3L147.7 238.1L147.8 238.9L148.0 239.8L148.1 240.6L148.2 241.4L148.4 242.2L148.5 243.0"/>
<path d="M153.8 232.3L153.9 231.5L154.1 230.7L154.2 229.9L154.4 229.1L154.5 228.3L154.6 227.5L154.8 226.8L154.9 226.0L155.0 225.2L155.2 224.4L155.3 223.6L155.5 222.8L155.6 222.0"/>
<path d="M159.0 216.7L159.1 215.9L159.1 215.0L159.2 214.2L159.2 213.4L159.2 212.5L159.3 211.7L159.3 210.9L159.4 210.0L159.4 209.2L159.5 208.3L159.6 207.5L159.6 206.7L159.7 205.8L159.7 205.0L159.8 204.2L159.8 203.3L159.8 202.5L159.9 201.7L159.9 200.8L160.0 200.0L160.0 199.2L160.0 198.4L160.0 197.6L160.0 196.8L160.1 196.0L160.1 195.2L160.1 194.4L160.1 193.6L160.1 192.7L160.1 191.9L160.1 191.1L160.1 190.3L160.2 189.5L160.2 188.7L160.2 187.9L160.2 187.1L160.2 186.3L160.2 185.5L160.2 184.7L160.2 183.9L160.2 183.1L160.3 182.3L160.3 181.5L160.3 180.7L160.3 179.9L160.3 179.0L160.3 178.2L160.3 177.4L160.3 176.6L160.4 175.8L160.4 175.0L160.4 174.2L160.4 173.4L160.4 172.6L160.4 171.8L160.4 171.0L160.4 170.2L160.5 169.4L160.5 168.6L160.5 167.8L160.5 167.0L160.5 166.2L160.5 165.3L160.5 164.5L160.5 163.7L160.5 162.9L160.6 162.1L160.6 161.3L160.6 160.5L160.6 159.7L160.6 158.9L160.6 158.1L160.6 157.3L160.6 156.5L160.7 155.7L160.7 154.9L160.7 154.1L160.7 153.3L160.7 152.4L160.7 151.6L160.7 150.8L160.7 150.0L160.8 149.2L160.8 148.4L160.8 147.6L160.8 146.8L160.8 146.0L160.8 145.2L160.8 144.4L160.8 143.6L160.8 142.8L160.9 142.0L160.9 141.2L160.9 140.4L160.9 139.6L160.9 138.7L160.9 137.9L160.9 137.1L160.9 136.3L161.0 135.5L161.0 134.7L161.0 133.9L161.0 133.1L161.0 132.3L161.0 133.1L161.0 133.9L161.0 134.7L161.0 135.5L161.1 136.3L161.1 137.1L161.1 137.9L161.1 138.7L161.1 139.6L161.1 140.4L161.1 141.2L161.1 142.0L161.2 142.8L161.2 143.6L161.2 144.4L161.2 145.2L161.2 146.0L161.2 146.8L161.2 147.6L161.2 148.4L161.2 149.2L161.3 150.0L161.3 150.8L161.3 151.6L161.3 152.4L161.3 153.3L161.3 154.1L161.3 154.9L161.3 155.7L161.4 156.5L161.4 157.3L161.4 158.1L161.4 158.9L161.4 159.7L161.4 160.5L161.4 161.3L161.4 162.1L161.5 162.9L161.5 163.7L161.5 164.5L161.5 165.3L161.5 166.2L161.5 167.0L161.5 167.8L161.5 168.6L161.5 169.4L161.6 170.2L161.6 171.0L161.6 171.8L161.6 172.6L161.6 173.4L161.6 174.2L161.6 175.0L161.6 175.8L161.7 176.6L161.7 177.4L161.7 178.2L161.7 179.0L161.7 179.9L161.7 180.7L161.7 181.5L161.7 182.3L161.8 183.1L161.8 183.9L161.8 184.7L161.8 185.5L161.8 186.3L161.8 187.1L161.8 187.9L161.8 188.7L161.8 189.5L161.9 190.3L161.9 191.1L161.9 191.9L161.9 192.7L161.9 193.6L161.9 194.4L161.9 195.2L161.9 196.0L162.0 196.8L162.0 197.6L162.0 198.4L162.0 199.2L162.0 200.0L162.0 200.8L162.1 201.7L162.1 202.5L162.1 203.3L162.1 204.2L162.2 205.0L162.2 205.8L162.2 206.7L162.2 207.5L162.3 208.3L162.3 209.2L162.3 210.0L162.4 210.8L162.4 211.7L162.4 212.5L162.4 213.3L162.5 214.2L162.5 215.0L162.6 215.8L162.7 216.6L162.7 217.4L162.8 218.2L162.9 219.1L163.0 219.9L163.1 220.7L163.2 221.5L163.2 222.3L163.3 223.1L163.4 223.9L163.5 224.7L163.6 225.6L163.7 226.4L163.7 227.2L163.8 228.0L163.9 228.8L164.0 229.6L164.0 230.4L164.1 231.2L164.2 232.1L164.3 232.9L164.3 233.7L164.4 234.5L164.5 235.3L164.6 236.1L164.6 236.9L164.7 237.7L164.8 238.6L164.9 239.4L164.9 240.2L165.0 241.0"/>
<path d="M248.4 217.3L248.5 216.5L248.6 215.7L248.8 214.9L248.9 214.1L249.0 213.3L249.1 212.5L249.2 211.7L249.4 210.8L249.5 210.0L249.6 209.2L249.7 208.4L249.8 207.6L250.0 206.8L250.1 206.0L250.2 205.2L250.2 204.3L250.3 203.5L250.3 202.6L250.4 201.8L250.4 200.9L250.4 200.1L250.5 199.2L250.5 198.4L250.6 197.6L250.6 196.7L250.7 195.8L250.7 195.0"/>
<path d="M252.4 200.0L252.5 200.9L252.6 201.7L252.8 202.6L252.9 203.5L253.0 204.3L253.1 205.2L253.2 206.1L253.4 207.0L253.5 207.8L253.6 208.7"/>
<path d="M273.5 200.0L273.6 199.2L273.8 198.4L273.9 197.5L274.0 196.7L274.2 195.9L274.3 195.1L274.5 194.3L274.6 193.5L274.7 192.6L274.9 191.8L275.0 191.0"/>
<path d="M276.6 186.0L276.7 185.2L276.9 184.3L277.0 183.4L277.2 182.6L277.3 181.8L277.4 180.9L277.6 180.1L277.7 179.2L277.9 178.3L278.0 177.5"/>
<path d="M352.3 164.2L352.4 163.4L352.6 162.6L352.7 161.7L352.8 160.9L352.9 160.1L353.1 159.3L353.2 158.5L353.3 157.6L353.5 156.8L353.6 156.0L353.7 155.2L353.8 154.4L354.0 153.6L354.1 152.7L354.2 151.9L354.4 151.1L354.5 150.3L354.6 149.5L354.7 148.6L354.9 147.8L355.0 147.0L355.1 146.2L355.1 145.4L355.2 144.6L355.2 143.8L355.3 143.0L355.4 142.2L355.4 141.3L355.5 140.5L355.6 139.7L355.6 138.9L355.7 138.1L355.7 137.3L355.8 136.5L355.9 135.7L355.9 134.9L356.0 134.1L356.0 133.3L356.1 132.5L356.2 131.7L356.2 130.8L356.3 130.0L356.4 129.2L356.4 128.4L356.5 127.6L356.5 126.8L356.6 126.0L356.7 125.2L356.7 124.4L356.8 123.6L356.9 122.8L356.9 121.9L357.0 121.1L357.0 120.3L357.1 119.5L357.2 118.7L357.2 117.9L357.3 117.1L357.4 116.3L357.4 115.5L357.5 114.7L357.5 113.8L357.6 113.0L357.7 112.2L357.7 111.4L357.8 110.6"/>
<path d="M359.7 112.3L359.7 113.1L359.8 113.9L359.8 114.7L359.8 115.5L359.9 116.3L359.9 117.1L359.9 117.9L359.9 118.8L360.0 119.6L360.0 120.4L360.0 121.2L360.1 122.0L360.1 122.8L360.1 123.6L360.1 124.4L360.2 125.2L360.2 126.0L360.2 126.8L360.3 127.6L360.3 128.4L360.3 129.2L360.4 130.0L360.4 130.9L360.4 131.7L360.5 132.5L360.5 133.3L360.5 134.1L360.5 134.9L360.6 135.7L360.6 136.5L360.6 137.3L360.7 138.1L360.7 138.9L360.7 139.8L360.8 140.6L360.8 141.4L360.8 142.2L360.9 143.0L360.9 143.8L361.0 144.6L361.0 145.5L361.0 146.3L361.1 147.1L361.1 147.9L361.1 148.7L361.2 149.5L361.2 150.3L361.2 151.2L361.3 152.0L361.3 152.8L361.3 153.6L361.4 154.4L361.4 155.2L361.4 156.1L361.5 156.9L361.5 157.7L361.6 158.5L361.6 159.3L361.6 160.1L361.7 160.9L361.7 161.8L361.7 162.6L361.8 163.4L361.8 164.2L361.9 165.0L361.9 165.8L362.0 166.6L362.0 167.4L362.1 168.3L362.2 169.1L362.2 169.9L362.3 170.7L362.3 171.5L362.4 172.3L362.4 173.1L362.5 173.9L362.6 174.8L362.6 175.6L362.7 176.4L362.7 177.2L362.8 178.0L362.9 178.8L362.9 179.6L363.0 180.4L363.0 181.3L363.1 182.1L363.2 182.9L363.2 183.7L363.3 184.5L363.3 185.3L363.4 186.1L363.5 186.9L363.5 187.8L363.6 188.6L363.6 189.4L363.7 190.2L363.8 191.0"/>
<path d="M401.0 177.0L401.2 177.8L401.3 178.6L401.5 179.5L401.6 180.3L401.8 181.1L402.0 181.9L402.1 182.8L402.3 183.6L402.5 184.4L402.6 185.2L402.8 186.1L402.9 186.9L403.1 187.7L403.3 188.5L403.4 189.4L403.6 190.2L403.8 191.0L403.9 191.8L404.1 192.7L404.2 193.5L404.4 194.3L404.5 195.2L404.6 196.0L404.8 196.8L404.9 197.7L405.1 198.5L405.2 199.3L405.4 200.2L405.6 201.0L405.7 201.8L405.9 202.7L406.0 203.5"/>
<path d="M187.5 163.8L187.6 162.9L187.6 162.1L187.7 161.3L187.8 160.5L187.9 159.7L187.9 158.9L188.0 158.1L188.1 157.3L188.2 156.5L188.2 155.7L188.3 154.9L188.4 154.0L188.5 153.2L188.5 152.4L188.6 151.6L188.7 150.8L188.8 150.0L188.8 149.2L188.9 148.4L188.9 147.5L189.0 146.7L189.0 145.9L189.1 145.1L189.1 144.2L189.2 143.4L189.2 142.6L189.3 141.8L189.3 141.0L189.4 140.1L189.4 139.3L189.5 138.5L189.6 139.3L189.6 140.1L189.7 141.0L189.7 141.8L189.8 142.6L189.9 143.4L189.9 144.3L190.0 145.1L190.0 145.9L190.1 146.7L190.1 147.6L190.2 148.4L190.3 149.2L190.3 150.0L190.4 150.9L190.4 151.7L190.5 152.5L190.6 153.3L190.6 154.2L190.7 155.0L190.8 155.8L190.9 156.7L190.9 157.5L191.0 158.3L191.1 159.2L191.1 160.0L191.2 160.8L191.3 161.7L191.4 162.5L191.4 163.3L191.5 164.2L191.6 165.0L191.6 165.8L191.7 166.7L191.8 167.5L191.9 168.3L191.9 169.2L192.0 170.0"/>
<path d="M366.0 112.3L366.2 111.5L366.3 110.7L366.5 109.9L366.6 109.1L366.8 108.2L367.0 107.4L367.1 106.6L367.3 105.8L367.4 105.0L367.6 104.2L367.7 103.4L367.9 102.6L368.1 101.7L368.2 100.9L368.4 100.1L368.5 99.3L368.7 98.5L368.8 97.7L368.9 96.8L368.9 96.0L369.0 95.1L369.1 94.3L369.2 93.4L369.3 92.6L369.4 91.8L369.4 90.9L369.5 90.1L369.6 89.2L369.7 88.4L369.8 87.5L369.8 86.7L369.9 85.8L370.0 85.0L370.1 84.2L370.3 83.4L370.4 82.5L370.6 81.7L370.7 80.9L370.8 80.1L371.0 79.3L371.1 78.5L371.2 77.6L371.4 76.8L371.5 76.0L371.6 75.2L371.8 74.4L371.9 73.5L372.1 72.7L372.2 71.9L372.3 71.1L372.4 70.3L372.5 69.5L372.5 68.7L372.6 67.9L372.7 67.1L372.8 66.3L372.9 65.5L373.0 64.7L373.1 63.9L373.1 63.0L373.2 62.2L373.3 61.4L373.4 60.6L373.5 59.8L373.6 59.0L373.7 58.2L373.7 57.4L373.8 56.6L373.9 55.8L374.0 55.0L374.1 54.2L374.2 53.4L374.3 52.6L374.5 51.8L374.6 51.0L374.7 50.2L374.8 49.4L374.9 48.6L375.0 47.8L375.1 47.0L375.2 46.1L375.4 45.3L375.5 44.5L375.6 43.7L375.7 42.9L375.8 42.1L375.9 41.3L376.0 40.5L376.2 39.7L376.3 38.9L376.4 38.1L376.5 37.3"/>
<path d="M378.2 31.2L378.4 32.0L378.5 32.8L378.6 33.6L378.7 34.4L378.8 35.2L378.9 36.0L379.0 36.8L379.2 37.6L379.3 38.4L379.4 39.2L379.5 40.0L379.6 40.8L379.6 41.6L379.7 42.4L379.7 43.3L379.8 44.1L379.8 44.9L379.9 45.7L379.9 46.5L380.0 47.3L380.0 48.2L380.1 49.0L380.1 49.8L380.2 50.6L380.2 51.4L380.3 52.3L380.3 53.1L380.4 53.9L380.4 54.7L380.5 55.5L380.5 56.4L380.5 57.2L380.6 58.0L380.6 58.8L380.7 59.6L380.7 60.4L380.8 61.3L380.8 62.1L380.9 62.9L380.9 63.7L381.0 64.5L381.0 65.4L381.1 66.2L381.1 67.0L381.2 67.8L381.2 68.6L381.3 69.4L381.3 70.3L381.4 71.1L381.4 71.9L381.4 72.7L381.5 73.5L381.5 74.3L381.5 75.1L381.6 75.9L381.6 76.7L381.6 77.5L381.7 78.3L381.7 79.1L381.7 79.9L381.8 80.7L381.8 81.5L381.8 82.3L381.9 83.1L381.9 83.9L381.9 84.7L382.0 85.5L382.0 86.4L382.1 87.2L382.1 88.0L382.1 88.8L382.2 89.6L382.2 90.4L382.2 91.2L382.3 92.0L382.3 92.8L382.3 93.6L382.4 94.4L382.4 95.2L382.4 96.0L382.5 96.8L382.5 97.6L382.5 98.4L382.6 99.2L382.6 100.0L382.6 100.8L382.7 101.6L382.7 102.4L382.7 103.2L382.7 104.0L382.8 104.8L382.8 105.6L382.8 106.4L382.8 107.2L382.9 108.0L382.9 108.8L383.0 109.6L383.0 110.4L383.1 111.2L383.1 112.0L383.2 112.8L383.2 113.6L383.3 114.4L383.3 115.2L383.4 116.0L383.4 116.8L383.5 117.6L383.5 118.4L383.6 119.2L383.7 120.0L383.7 120.8L383.8 121.6L383.8 122.4L383.9 123.2L383.9 124.0L384.0 124.8L384.0 125.6L384.1 126.4L384.1 127.2L384.2 128.0L384.2 128.8L384.3 129.6L384.4 130.4L384.5 131.2L384.6 132.0L384.8 132.8L384.9 133.6L385.0 134.4L385.1 135.2L385.2 136.1L385.3 136.9L385.4 137.7L385.5 138.5L385.7 139.3L385.8 140.1L385.9 140.9L386.0 141.7"/>
<path d="M418.6 130.5L418.7 131.4L418.9 132.2L419.0 133.1L419.1 134.0L419.3 134.8L419.4 135.7L419.5 136.6L419.7 137.4L419.8 138.3L419.9 139.1L420.0 139.9L420.1 140.7L420.3 141.5L420.4 142.3L420.5 143.1L420.6 143.9L420.7 144.8L420.8 145.6L420.9 146.4L421.0 147.2L421.2 148.0L421.3 148.8L421.4 149.6L421.5 150.4L421.7 151.3L421.8 152.1L422.0 153.0L422.2 153.8L422.4 154.7L422.5 155.6L422.7 156.4L422.9 157.3L423.0 158.1L423.2 159.0"/>
</g>
<g fill="none" stroke="#111" stroke-width="1">
<path d="M8 414.3H364" stroke-width="1.2"/><path d="M59.3 414.3V406.3"/><path d="M110.5 414.3V406.3"/><path d="M161.6 414.3V406.3"/><path d="M212.3 414.3V406.3"/><path d="M262.7 414.3V406.3"/><path d="M313.1 414.3V406.3"/>
<g stroke-width="1.15"><path d="M205.5 107L194.5 134.5"/><path d="M395.5 19.5L385.2 46.3"/><path d="M438.3 108.3L419.5 128.5"/><path d="M465.8 197.8V203.2"/></g>
</g>
<g stroke="#111" stroke-width="0.3"><text x="393.1" y="13.4" font-size="16.1">CH2</text><text x="445.3" y="108.3" font-size="16.1">CH3</text><text x="208.1" y="100.0" font-size="16.4" textLength="53.2" lengthAdjust="spacingAndGlyphs">Choline</text><text x="474.3" y="204.9" font-size="14.5" textLength="44.0" lengthAdjust="spacingAndGlyphs">48 hrs</text><text x="456.3" y="242.3" font-size="14.5" textLength="44.0" lengthAdjust="spacingAndGlyphs">24 hrs</text><text x="438.2" y="280.9" font-size="14.5" textLength="44.0" lengthAdjust="spacingAndGlyphs">18 hrs</text><text x="420.6" y="319.1" font-size="14.5" textLength="44.0" lengthAdjust="spacingAndGlyphs">12 hrs</text><text x="400.2" y="361.2" font-size="14.5" textLength="35.5" lengthAdjust="spacingAndGlyphs">6 hrs</text><text x="383.2" y="401.6" font-size="14.5" textLength="48.0" lengthAdjust="spacingAndGlyphs">control</text><text x="130.9" y="458.6" font-size="14.35">Chemical Shift (ppm)</text></g>
<g stroke="#111" stroke-width="0.25"><text x="41.3" y="432.8" font-size="11.6" textLength="22" lengthAdjust="spacingAndGlyphs">-3.5</text><text x="97.8" y="432.8" font-size="11.6" textLength="22" lengthAdjust="spacingAndGlyphs">-3.0</text><text x="149.3" y="432.8" font-size="11.6" textLength="22" lengthAdjust="spacingAndGlyphs">-2.5</text><text x="197.7" y="432.8" font-size="11.6" textLength="22" lengthAdjust="spacingAndGlyphs">-2.0</text><text x="249.1" y="432.8" font-size="11.6" textLength="22" lengthAdjust="spacingAndGlyphs">-1.5</text><text x="300.5" y="432.8" font-size="11.6" textLength="22" lengthAdjust="spacingAndGlyphs">-1.0</text></g>
<text x="0.7" y="28.1" font-size="37.8" stroke="#111" stroke-width="0.7" textLength="25.9" lengthAdjust="spacingAndGlyphs">C</text>
</svg>
</body></html>
